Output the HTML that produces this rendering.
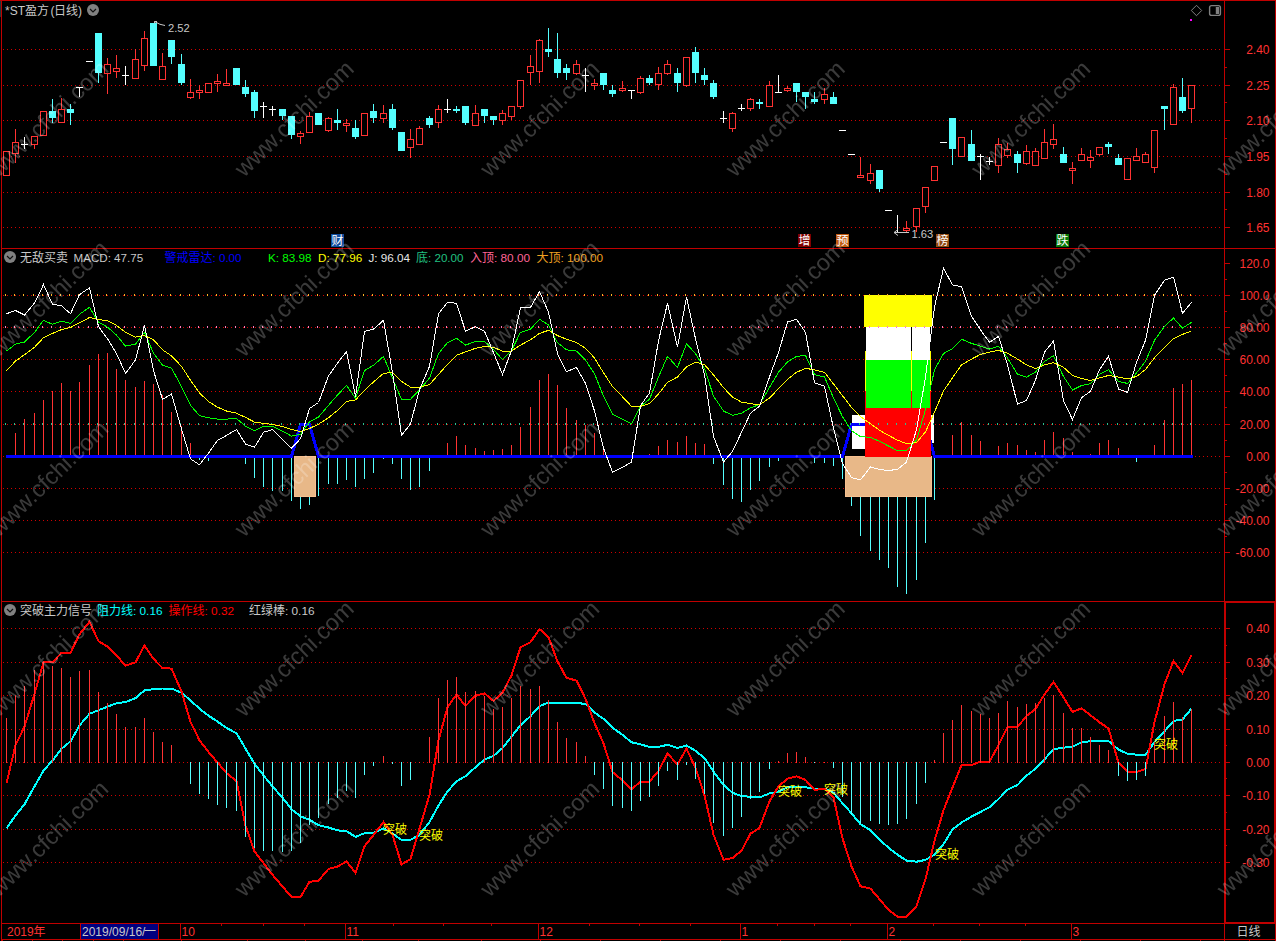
<!DOCTYPE html>
<html><head><meta charset="utf-8"><title>chart</title>
<style>html,body{margin:0;padding:0;background:#000;overflow:hidden}svg{display:block}text{font-family:"Liberation Sans","Noto Sans CJK SC",sans-serif;font-size:12px}</style>
</head><body><svg width="1276" height="941" viewBox="0 0 1276 941" shape-rendering="crispEdges"><rect x="0" y="0" width="1276" height="941" fill="#000"/>
<line x1="3" y1="49.5" x2="1221" y2="49.5" stroke="#D00000" stroke-width="1" stroke-dasharray="1 3"/>
<line x1="3" y1="85.5" x2="1221" y2="85.5" stroke="#D00000" stroke-width="1" stroke-dasharray="1 3"/>
<line x1="3" y1="120.5" x2="1221" y2="120.5" stroke="#D00000" stroke-width="1" stroke-dasharray="1 3"/>
<line x1="3" y1="156.5" x2="1221" y2="156.5" stroke="#D00000" stroke-width="1" stroke-dasharray="1 3"/>
<line x1="3" y1="192.5" x2="1221" y2="192.5" stroke="#D00000" stroke-width="1" stroke-dasharray="1 3"/>
<line x1="3" y1="227.5" x2="1221" y2="227.5" stroke="#D00000" stroke-width="1" stroke-dasharray="1 3"/>
<line x1="3" y1="295.5" x2="1221" y2="295.5" stroke="#D00000" stroke-width="1" stroke-dasharray="1 3"/>
<line x1="3" y1="327.5" x2="1221" y2="327.5" stroke="#D00000" stroke-width="1" stroke-dasharray="1 3"/>
<line x1="3" y1="359.5" x2="1221" y2="359.5" stroke="#D00000" stroke-width="1" stroke-dasharray="1 3"/>
<line x1="3" y1="391.5" x2="1221" y2="391.5" stroke="#D00000" stroke-width="1" stroke-dasharray="1 3"/>
<line x1="3" y1="424.5" x2="1221" y2="424.5" stroke="#D00000" stroke-width="1" stroke-dasharray="1 3"/>
<line x1="3" y1="456.5" x2="1221" y2="456.5" stroke="#D00000" stroke-width="1" stroke-dasharray="1 3"/>
<line x1="3" y1="488.5" x2="1221" y2="488.5" stroke="#D00000" stroke-width="1" stroke-dasharray="1 3"/>
<line x1="3" y1="520.5" x2="1221" y2="520.5" stroke="#D00000" stroke-width="1" stroke-dasharray="1 3"/>
<line x1="3" y1="552.5" x2="1221" y2="552.5" stroke="#D00000" stroke-width="1" stroke-dasharray="1 3"/>
<line x1="3" y1="628.5" x2="1221" y2="628.5" stroke="#D00000" stroke-width="1" stroke-dasharray="1 3"/>
<line x1="3" y1="662.5" x2="1221" y2="662.5" stroke="#D00000" stroke-width="1" stroke-dasharray="1 3"/>
<line x1="3" y1="695.5" x2="1221" y2="695.5" stroke="#D00000" stroke-width="1" stroke-dasharray="1 3"/>
<line x1="3" y1="729.5" x2="1221" y2="729.5" stroke="#D00000" stroke-width="1" stroke-dasharray="1 3"/>
<line x1="3" y1="762.5" x2="1221" y2="762.5" stroke="#D00000" stroke-width="1" stroke-dasharray="1 3"/>
<line x1="3" y1="795.5" x2="1221" y2="795.5" stroke="#D00000" stroke-width="1" stroke-dasharray="1 3"/>
<line x1="3" y1="829.5" x2="1221" y2="829.5" stroke="#D00000" stroke-width="1" stroke-dasharray="1 3"/>
<line x1="3" y1="862.5" x2="1221" y2="862.5" stroke="#D00000" stroke-width="1" stroke-dasharray="1 3"/>
<rect x="3.5" y="151.5" width="6" height="24" fill="#000" stroke="#FF3232" stroke-width="1"/>
<rect x="15" y="129" width="1" height="14" fill="#FF3232"/>
<rect x="15" y="153" width="1" height="10" fill="#FF3232"/>
<rect x="12.5" y="142.5" width="6" height="11" fill="#000" stroke="#FF3232" stroke-width="1"/>
<rect x="24" y="137" width="1" height="12" fill="#fff"/>
<rect x="21" y="144" width="7" height="1" fill="#fff"/>
<rect x="34" y="144" width="1" height="5" fill="#FF3232"/>
<rect x="31.5" y="136.5" width="6" height="8" fill="#000" stroke="#FF3232" stroke-width="1"/>
<rect x="40.5" y="111.5" width="6" height="24" fill="#000" stroke="#FF3232" stroke-width="1"/>
<rect x="52" y="99" width="1" height="13" fill="#54FFFF"/>
<rect x="52" y="117" width="1" height="6" fill="#54FFFF"/>
<rect x="49" y="111" width="7" height="7" fill="#54FFFF"/>
<rect x="61" y="98" width="1" height="12" fill="#FF3232"/>
<rect x="58.5" y="109.5" width="6" height="13" fill="#000" stroke="#FF3232" stroke-width="1"/>
<rect x="70" y="104" width="1" height="6" fill="#54FFFF"/>
<rect x="70" y="112" width="1" height="13" fill="#54FFFF"/>
<rect x="67" y="109" width="7" height="4" fill="#54FFFF"/>
<rect x="79" y="87" width="1" height="10" fill="#fff"/>
<rect x="76" y="87" width="7" height="1" fill="#fff"/>
<rect x="86" y="61" width="7" height="1" fill="#fff"/>
<rect x="98" y="72" width="1" height="11" fill="#54FFFF"/>
<rect x="95" y="33" width="7" height="40" fill="#54FFFF"/>
<rect x="107" y="58" width="1" height="7" fill="#FF3232"/>
<rect x="107" y="73" width="1" height="21" fill="#FF3232"/>
<rect x="104.5" y="64.5" width="6" height="9" fill="#000" stroke="#FF3232" stroke-width="1"/>
<rect x="116" y="55" width="1" height="14" fill="#FF3232"/>
<rect x="116" y="71" width="1" height="7" fill="#FF3232"/>
<rect x="113.5" y="68.5" width="6" height="3" fill="#000" stroke="#FF3232" stroke-width="1"/>
<rect x="125" y="66" width="1" height="19" fill="#fff"/>
<rect x="122" y="75" width="7" height="1" fill="#fff"/>
<rect x="135" y="49" width="1" height="11" fill="#FF3232"/>
<rect x="132.5" y="59.5" width="6" height="19" fill="#000" stroke="#FF3232" stroke-width="1"/>
<rect x="144" y="31" width="1" height="8" fill="#FF3232"/>
<rect x="144" y="65" width="1" height="6" fill="#FF3232"/>
<rect x="141.5" y="38.5" width="6" height="27" fill="#000" stroke="#FF3232" stroke-width="1"/>
<rect x="150" y="23" width="7" height="43" fill="#54FFFF"/>
<rect x="162" y="53" width="1" height="14" fill="#FF3232"/>
<rect x="159.5" y="66.5" width="6" height="13" fill="#000" stroke="#FF3232" stroke-width="1"/>
<rect x="171" y="56" width="1" height="8" fill="#54FFFF"/>
<rect x="168" y="40" width="7" height="17" fill="#54FFFF"/>
<rect x="181" y="54" width="1" height="11" fill="#54FFFF"/>
<rect x="181" y="82" width="1" height="3" fill="#54FFFF"/>
<rect x="178" y="64" width="7" height="19" fill="#54FFFF"/>
<rect x="190" y="79" width="1" height="14" fill="#FF3232"/>
<rect x="190" y="97" width="1" height="2" fill="#FF3232"/>
<rect x="187.5" y="92.5" width="6" height="5" fill="#000" stroke="#FF3232" stroke-width="1"/>
<rect x="199" y="85" width="1" height="6" fill="#FF3232"/>
<rect x="199" y="92" width="1" height="7" fill="#FF3232"/>
<rect x="196.5" y="90.5" width="6" height="2" fill="#000" stroke="#FF3232" stroke-width="1"/>
<rect x="205.5" y="83.5" width="6" height="9" fill="#000" stroke="#FF3232" stroke-width="1"/>
<rect x="217" y="74" width="1" height="8" fill="#FF3232"/>
<rect x="217" y="83" width="1" height="9" fill="#FF3232"/>
<rect x="214.5" y="81.5" width="6" height="2" fill="#000" stroke="#FF3232" stroke-width="1"/>
<rect x="226" y="69" width="1" height="15" fill="#FF3232"/>
<rect x="223.5" y="83.5" width="6" height="2" fill="#000" stroke="#FF3232" stroke-width="1"/>
<rect x="233" y="68" width="7" height="17" fill="#54FFFF"/>
<rect x="245" y="80" width="1" height="8" fill="#54FFFF"/>
<rect x="245" y="93" width="1" height="4" fill="#54FFFF"/>
<rect x="242" y="87" width="7" height="7" fill="#54FFFF"/>
<rect x="254" y="90" width="1" height="3" fill="#54FFFF"/>
<rect x="254" y="110" width="1" height="8" fill="#54FFFF"/>
<rect x="251" y="92" width="7" height="19" fill="#54FFFF"/>
<rect x="263" y="102" width="1" height="16" fill="#fff"/>
<rect x="260" y="106" width="7" height="1" fill="#fff"/>
<rect x="272" y="106" width="1" height="10" fill="#fff"/>
<rect x="269" y="109" width="7" height="1" fill="#fff"/>
<rect x="282" y="115" width="1" height="5" fill="#54FFFF"/>
<rect x="279" y="109" width="7" height="7" fill="#54FFFF"/>
<rect x="291" y="134" width="1" height="5" fill="#54FFFF"/>
<rect x="288" y="116" width="7" height="19" fill="#54FFFF"/>
<rect x="300" y="131" width="1" height="3" fill="#FF3232"/>
<rect x="300" y="136" width="1" height="8" fill="#FF3232"/>
<rect x="297.5" y="133.5" width="6" height="3" fill="#000" stroke="#FF3232" stroke-width="1"/>
<rect x="309" y="112" width="1" height="5" fill="#FF3232"/>
<rect x="306.5" y="116.5" width="6" height="16" fill="#000" stroke="#FF3232" stroke-width="1"/>
<rect x="315" y="113" width="7" height="12" fill="#54FFFF"/>
<rect x="328" y="117" width="1" height="2" fill="#FF3232"/>
<rect x="328" y="130" width="1" height="2" fill="#FF3232"/>
<rect x="325.5" y="118.5" width="6" height="12" fill="#000" stroke="#FF3232" stroke-width="1"/>
<rect x="337" y="109" width="1" height="12" fill="#54FFFF"/>
<rect x="337" y="122" width="1" height="8" fill="#54FFFF"/>
<rect x="334" y="120" width="7" height="3" fill="#54FFFF"/>
<rect x="346" y="119" width="1" height="5" fill="#FF3232"/>
<rect x="346" y="125" width="1" height="7" fill="#FF3232"/>
<rect x="343.5" y="123.5" width="6" height="2" fill="#000" stroke="#FF3232" stroke-width="1"/>
<rect x="355" y="120" width="1" height="9" fill="#54FFFF"/>
<rect x="355" y="136" width="1" height="3" fill="#54FFFF"/>
<rect x="352" y="128" width="7" height="9" fill="#54FFFF"/>
<rect x="361.5" y="113.5" width="6" height="22" fill="#000" stroke="#FF3232" stroke-width="1"/>
<rect x="373" y="104" width="1" height="8" fill="#54FFFF"/>
<rect x="373" y="117" width="1" height="6" fill="#54FFFF"/>
<rect x="370" y="111" width="7" height="7" fill="#54FFFF"/>
<rect x="383" y="105" width="1" height="9" fill="#FF3232"/>
<rect x="383" y="118" width="1" height="5" fill="#FF3232"/>
<rect x="380.5" y="113.5" width="6" height="5" fill="#000" stroke="#FF3232" stroke-width="1"/>
<rect x="392" y="104" width="1" height="6" fill="#54FFFF"/>
<rect x="392" y="127" width="1" height="3" fill="#54FFFF"/>
<rect x="389" y="109" width="7" height="19" fill="#54FFFF"/>
<rect x="398" y="132" width="7" height="19" fill="#54FFFF"/>
<rect x="410" y="129" width="1" height="11" fill="#FF3232"/>
<rect x="410" y="147" width="1" height="11" fill="#FF3232"/>
<rect x="407.5" y="139.5" width="6" height="8" fill="#000" stroke="#FF3232" stroke-width="1"/>
<rect x="419" y="126" width="1" height="3" fill="#FF3232"/>
<rect x="416.5" y="128.5" width="6" height="16" fill="#000" stroke="#FF3232" stroke-width="1"/>
<rect x="429" y="116" width="1" height="3" fill="#54FFFF"/>
<rect x="429" y="124" width="1" height="4" fill="#54FFFF"/>
<rect x="426" y="118" width="7" height="7" fill="#54FFFF"/>
<rect x="438" y="105" width="1" height="5" fill="#FF3232"/>
<rect x="438" y="122" width="1" height="6" fill="#FF3232"/>
<rect x="435.5" y="109.5" width="6" height="13" fill="#000" stroke="#FF3232" stroke-width="1"/>
<rect x="447" y="99" width="1" height="14" fill="#fff"/>
<rect x="444" y="109" width="7" height="1" fill="#fff"/>
<rect x="456" y="106" width="1" height="4" fill="#54FFFF"/>
<rect x="456" y="110" width="1" height="3" fill="#54FFFF"/>
<rect x="453" y="109" width="7" height="2" fill="#54FFFF"/>
<rect x="465" y="122" width="1" height="3" fill="#54FFFF"/>
<rect x="462" y="106" width="7" height="17" fill="#54FFFF"/>
<rect x="475" y="105" width="1" height="9" fill="#FF3232"/>
<rect x="472.5" y="113.5" width="6" height="12" fill="#000" stroke="#FF3232" stroke-width="1"/>
<rect x="484" y="115" width="1" height="8" fill="#54FFFF"/>
<rect x="481" y="109" width="7" height="7" fill="#54FFFF"/>
<rect x="493" y="119" width="1" height="6" fill="#54FFFF"/>
<rect x="490" y="116" width="7" height="4" fill="#54FFFF"/>
<rect x="502" y="110" width="1" height="4" fill="#FF3232"/>
<rect x="502" y="120" width="1" height="5" fill="#FF3232"/>
<rect x="499.5" y="113.5" width="6" height="7" fill="#000" stroke="#FF3232" stroke-width="1"/>
<rect x="511" y="116" width="1" height="4" fill="#FF3232"/>
<rect x="508.5" y="106.5" width="6" height="10" fill="#000" stroke="#FF3232" stroke-width="1"/>
<rect x="520" y="106" width="1" height="3" fill="#FF3232"/>
<rect x="517.5" y="80.5" width="6" height="26" fill="#000" stroke="#FF3232" stroke-width="1"/>
<rect x="530" y="55" width="1" height="12" fill="#FF3232"/>
<rect x="530" y="72" width="1" height="13" fill="#FF3232"/>
<rect x="527.5" y="66.5" width="6" height="6" fill="#000" stroke="#FF3232" stroke-width="1"/>
<rect x="539" y="39" width="1" height="2" fill="#FF3232"/>
<rect x="539" y="71" width="1" height="12" fill="#FF3232"/>
<rect x="536.5" y="40.5" width="6" height="31" fill="#000" stroke="#FF3232" stroke-width="1"/>
<rect x="548" y="28" width="1" height="22" fill="#54FFFF"/>
<rect x="548" y="51" width="1" height="6" fill="#54FFFF"/>
<rect x="545" y="49" width="7" height="3" fill="#54FFFF"/>
<rect x="557" y="33" width="1" height="27" fill="#54FFFF"/>
<rect x="557" y="72" width="1" height="6" fill="#54FFFF"/>
<rect x="554" y="59" width="7" height="14" fill="#54FFFF"/>
<rect x="566" y="64" width="1" height="5" fill="#54FFFF"/>
<rect x="566" y="72" width="1" height="8" fill="#54FFFF"/>
<rect x="563" y="68" width="7" height="5" fill="#54FFFF"/>
<rect x="576" y="60" width="1" height="5" fill="#FF3232"/>
<rect x="576" y="73" width="1" height="2" fill="#FF3232"/>
<rect x="573.5" y="64.5" width="6" height="9" fill="#000" stroke="#FF3232" stroke-width="1"/>
<rect x="585" y="68" width="1" height="24" fill="#fff"/>
<rect x="582" y="75" width="7" height="1" fill="#fff"/>
<rect x="594" y="79" width="1" height="5" fill="#FF3232"/>
<rect x="594" y="85" width="1" height="5" fill="#FF3232"/>
<rect x="591.5" y="83.5" width="6" height="2" fill="#000" stroke="#FF3232" stroke-width="1"/>
<rect x="603" y="84" width="1" height="6" fill="#54FFFF"/>
<rect x="600" y="73" width="7" height="12" fill="#54FFFF"/>
<rect x="612" y="85" width="1" height="6" fill="#54FFFF"/>
<rect x="612" y="93" width="1" height="4" fill="#54FFFF"/>
<rect x="609" y="90" width="7" height="4" fill="#54FFFF"/>
<rect x="622" y="81" width="1" height="8" fill="#FF3232"/>
<rect x="622" y="90" width="1" height="2" fill="#FF3232"/>
<rect x="619.5" y="88.5" width="6" height="2" fill="#000" stroke="#FF3232" stroke-width="1"/>
<rect x="631" y="90" width="1" height="9" fill="#fff"/>
<rect x="628" y="90" width="7" height="1" fill="#fff"/>
<rect x="640" y="76" width="1" height="3" fill="#FF3232"/>
<rect x="640" y="92" width="1" height="2" fill="#FF3232"/>
<rect x="637.5" y="78.5" width="6" height="14" fill="#000" stroke="#FF3232" stroke-width="1"/>
<rect x="649" y="75" width="1" height="4" fill="#54FFFF"/>
<rect x="649" y="82" width="1" height="3" fill="#54FFFF"/>
<rect x="646" y="78" width="7" height="5" fill="#54FFFF"/>
<rect x="658" y="67" width="1" height="7" fill="#FF3232"/>
<rect x="658" y="84" width="1" height="6" fill="#FF3232"/>
<rect x="655.5" y="73.5" width="6" height="11" fill="#000" stroke="#FF3232" stroke-width="1"/>
<rect x="667" y="60" width="1" height="5" fill="#FF3232"/>
<rect x="667" y="73" width="1" height="2" fill="#FF3232"/>
<rect x="664.5" y="64.5" width="6" height="9" fill="#000" stroke="#FF3232" stroke-width="1"/>
<rect x="677" y="68" width="1" height="6" fill="#54FFFF"/>
<rect x="677" y="82" width="1" height="10" fill="#54FFFF"/>
<rect x="674" y="73" width="7" height="10" fill="#54FFFF"/>
<rect x="686" y="85" width="1" height="2" fill="#FF3232"/>
<rect x="683.5" y="57.5" width="6" height="28" fill="#000" stroke="#FF3232" stroke-width="1"/>
<rect x="695" y="47" width="1" height="6" fill="#54FFFF"/>
<rect x="695" y="72" width="1" height="11" fill="#54FFFF"/>
<rect x="692" y="52" width="7" height="21" fill="#54FFFF"/>
<rect x="704" y="68" width="1" height="8" fill="#54FFFF"/>
<rect x="704" y="79" width="1" height="6" fill="#54FFFF"/>
<rect x="701" y="75" width="7" height="5" fill="#54FFFF"/>
<rect x="713" y="80" width="1" height="4" fill="#54FFFF"/>
<rect x="713" y="96" width="1" height="3" fill="#54FFFF"/>
<rect x="710" y="83" width="7" height="14" fill="#54FFFF"/>
<rect x="723" y="111" width="1" height="12" fill="#fff"/>
<rect x="720" y="118" width="7" height="1" fill="#fff"/>
<rect x="732" y="112" width="1" height="2" fill="#FF3232"/>
<rect x="732" y="128" width="1" height="4" fill="#FF3232"/>
<rect x="729.5" y="113.5" width="6" height="15" fill="#000" stroke="#FF3232" stroke-width="1"/>
<rect x="741" y="104" width="1" height="7" fill="#fff"/>
<rect x="738" y="108" width="7" height="1" fill="#fff"/>
<rect x="750" y="98" width="1" height="2" fill="#FF3232"/>
<rect x="750" y="108" width="1" height="3" fill="#FF3232"/>
<rect x="747.5" y="99.5" width="6" height="9" fill="#000" stroke="#FF3232" stroke-width="1"/>
<rect x="759" y="99" width="1" height="4" fill="#54FFFF"/>
<rect x="759" y="103" width="1" height="6" fill="#54FFFF"/>
<rect x="756" y="102" width="7" height="2" fill="#54FFFF"/>
<rect x="769" y="81" width="1" height="5" fill="#FF3232"/>
<rect x="766.5" y="85.5" width="6" height="21" fill="#000" stroke="#FF3232" stroke-width="1"/>
<rect x="778" y="75" width="1" height="18" fill="#fff"/>
<rect x="775" y="92" width="7" height="1" fill="#fff"/>
<rect x="787" y="86" width="1" height="3" fill="#FF3232"/>
<rect x="787" y="90" width="1" height="2" fill="#FF3232"/>
<rect x="784.5" y="88.5" width="6" height="2" fill="#000" stroke="#FF3232" stroke-width="1"/>
<rect x="796" y="91" width="1" height="11" fill="#54FFFF"/>
<rect x="793" y="83" width="7" height="9" fill="#54FFFF"/>
<rect x="805" y="96" width="1" height="13" fill="#54FFFF"/>
<rect x="802" y="92" width="7" height="5" fill="#54FFFF"/>
<rect x="814" y="92" width="1" height="8" fill="#54FFFF"/>
<rect x="814" y="101" width="1" height="3" fill="#54FFFF"/>
<rect x="811" y="99" width="7" height="3" fill="#54FFFF"/>
<rect x="824" y="88" width="1" height="7" fill="#FF3232"/>
<rect x="824" y="99" width="1" height="5" fill="#FF3232"/>
<rect x="821.5" y="94.5" width="6" height="5" fill="#000" stroke="#FF3232" stroke-width="1"/>
<rect x="833" y="92" width="1" height="6" fill="#54FFFF"/>
<rect x="830" y="97" width="7" height="7" fill="#54FFFF"/>
<rect x="839" y="130" width="7" height="1" fill="#fff"/>
<rect x="848" y="154" width="7" height="1" fill="#fff"/>
<rect x="860" y="157" width="1" height="19" fill="#FF3232"/>
<rect x="857.5" y="175.5" width="6" height="2" fill="#000" stroke="#FF3232" stroke-width="1"/>
<rect x="870" y="164" width="1" height="10" fill="#FF3232"/>
<rect x="870" y="180" width="1" height="4" fill="#FF3232"/>
<rect x="867.5" y="173.5" width="6" height="7" fill="#000" stroke="#FF3232" stroke-width="1"/>
<rect x="879" y="188" width="1" height="4" fill="#54FFFF"/>
<rect x="876" y="170" width="7" height="19" fill="#54FFFF"/>
<rect x="885" y="210" width="7" height="1" fill="#fff"/>
<rect x="897" y="215" width="1" height="18" fill="#fff"/>
<rect x="894" y="232" width="7" height="1" fill="#fff"/>
<rect x="906" y="221" width="1" height="8" fill="#FF3232"/>
<rect x="906" y="230" width="1" height="2" fill="#FF3232"/>
<rect x="903.5" y="228.5" width="6" height="2" fill="#000" stroke="#FF3232" stroke-width="1"/>
<rect x="916" y="226" width="1" height="6" fill="#FF3232"/>
<rect x="913.5" y="208.5" width="6" height="18" fill="#000" stroke="#FF3232" stroke-width="1"/>
<rect x="925" y="206" width="1" height="7" fill="#FF3232"/>
<rect x="922.5" y="187.5" width="6" height="19" fill="#000" stroke="#FF3232" stroke-width="1"/>
<rect x="931.5" y="166.5" width="6" height="14" fill="#000" stroke="#FF3232" stroke-width="1"/>
<rect x="940" y="142" width="7" height="1" fill="#fff"/>
<rect x="952" y="148" width="1" height="17" fill="#54FFFF"/>
<rect x="949" y="118" width="7" height="31" fill="#54FFFF"/>
<rect x="958.5" y="137.5" width="6" height="19" fill="#000" stroke="#FF3232" stroke-width="1"/>
<rect x="971" y="130" width="1" height="15" fill="#54FFFF"/>
<rect x="968" y="144" width="7" height="17" fill="#54FFFF"/>
<rect x="980" y="154" width="1" height="26" fill="#fff"/>
<rect x="977" y="156" width="7" height="1" fill="#fff"/>
<rect x="989" y="157" width="1" height="8" fill="#fff"/>
<rect x="986" y="161" width="7" height="1" fill="#fff"/>
<rect x="998" y="138" width="1" height="7" fill="#FF3232"/>
<rect x="998" y="165" width="1" height="8" fill="#FF3232"/>
<rect x="995.5" y="144.5" width="6" height="21" fill="#000" stroke="#FF3232" stroke-width="1"/>
<rect x="1007" y="143" width="1" height="7" fill="#FF3232"/>
<rect x="1007" y="155" width="1" height="3" fill="#FF3232"/>
<rect x="1004.5" y="149.5" width="6" height="6" fill="#000" stroke="#FF3232" stroke-width="1"/>
<rect x="1017" y="151" width="1" height="4" fill="#54FFFF"/>
<rect x="1017" y="162" width="1" height="11" fill="#54FFFF"/>
<rect x="1014" y="154" width="7" height="9" fill="#54FFFF"/>
<rect x="1026" y="145" width="1" height="7" fill="#FF3232"/>
<rect x="1026" y="163" width="1" height="2" fill="#FF3232"/>
<rect x="1023.5" y="151.5" width="6" height="12" fill="#000" stroke="#FF3232" stroke-width="1"/>
<rect x="1035" y="148" width="1" height="4" fill="#FF3232"/>
<rect x="1032.5" y="151.5" width="6" height="14" fill="#000" stroke="#FF3232" stroke-width="1"/>
<rect x="1044" y="129" width="1" height="14" fill="#FF3232"/>
<rect x="1041.5" y="142.5" width="6" height="16" fill="#000" stroke="#FF3232" stroke-width="1"/>
<rect x="1053" y="124" width="1" height="16" fill="#FF3232"/>
<rect x="1053" y="144" width="1" height="5" fill="#FF3232"/>
<rect x="1050.5" y="139.5" width="6" height="5" fill="#000" stroke="#FF3232" stroke-width="1"/>
<rect x="1063" y="147" width="1" height="8" fill="#54FFFF"/>
<rect x="1060" y="154" width="7" height="9" fill="#54FFFF"/>
<rect x="1072" y="162" width="1" height="7" fill="#FF3232"/>
<rect x="1072" y="170" width="1" height="14" fill="#FF3232"/>
<rect x="1069.5" y="168.5" width="6" height="2" fill="#000" stroke="#FF3232" stroke-width="1"/>
<rect x="1081" y="148" width="1" height="7" fill="#FF3232"/>
<rect x="1078.5" y="154.5" width="6" height="6" fill="#000" stroke="#FF3232" stroke-width="1"/>
<rect x="1090" y="150" width="1" height="8" fill="#FF3232"/>
<rect x="1090" y="160" width="1" height="8" fill="#FF3232"/>
<rect x="1087.5" y="157.5" width="6" height="3" fill="#000" stroke="#FF3232" stroke-width="1"/>
<rect x="1099" y="154" width="1" height="2" fill="#FF3232"/>
<rect x="1096.5" y="147.5" width="6" height="7" fill="#000" stroke="#FF3232" stroke-width="1"/>
<rect x="1108" y="142" width="1" height="3" fill="#54FFFF"/>
<rect x="1108" y="146" width="1" height="8" fill="#54FFFF"/>
<rect x="1105" y="144" width="7" height="3" fill="#54FFFF"/>
<rect x="1118" y="154" width="1" height="5" fill="#54FFFF"/>
<rect x="1115" y="158" width="7" height="7" fill="#54FFFF"/>
<rect x="1124.5" y="158.5" width="6" height="21" fill="#000" stroke="#FF3232" stroke-width="1"/>
<rect x="1136" y="148" width="1" height="9" fill="#FF3232"/>
<rect x="1133.5" y="156.5" width="6" height="4" fill="#000" stroke="#FF3232" stroke-width="1"/>
<rect x="1145" y="152" width="1" height="3" fill="#FF3232"/>
<rect x="1142.5" y="154.5" width="6" height="8" fill="#000" stroke="#FF3232" stroke-width="1"/>
<rect x="1154" y="167" width="1" height="6" fill="#FF3232"/>
<rect x="1151.5" y="130.5" width="6" height="37" fill="#000" stroke="#FF3232" stroke-width="1"/>
<rect x="1164" y="108" width="1" height="22" fill="#54FFFF"/>
<rect x="1161" y="106" width="7" height="3" fill="#54FFFF"/>
<rect x="1173" y="84" width="1" height="4" fill="#FF3232"/>
<rect x="1170.5" y="87.5" width="6" height="37" fill="#000" stroke="#FF3232" stroke-width="1"/>
<rect x="1182" y="78" width="1" height="20" fill="#54FFFF"/>
<rect x="1182" y="110" width="1" height="3" fill="#54FFFF"/>
<rect x="1179" y="97" width="7" height="14" fill="#54FFFF"/>
<rect x="1191" y="108" width="1" height="15" fill="#FF3232"/>
<rect x="1188.5" y="85.5" width="6" height="23" fill="#000" stroke="#FF3232" stroke-width="1"/>
<rect x="852" y="415" width="13" height="34" fill="#fff"/>
<rect x="931" y="415" width="3" height="28" fill="#fff"/>
<rect x="15" y="433" width="1" height="24" fill="#FF3232"/>
<rect x="24" y="419" width="1" height="38" fill="#FF3232"/>
<rect x="34" y="413" width="1" height="44" fill="#FF3232"/>
<rect x="43" y="400" width="1" height="57" fill="#FF3232"/>
<rect x="52" y="391" width="1" height="66" fill="#FF3232"/>
<rect x="61" y="383" width="1" height="74" fill="#FF3232"/>
<rect x="70" y="391" width="1" height="66" fill="#FF3232"/>
<rect x="79" y="382" width="1" height="75" fill="#FF3232"/>
<rect x="89" y="365" width="1" height="92" fill="#FF3232"/>
<rect x="98" y="354" width="1" height="103" fill="#FF3232"/>
<rect x="107" y="353" width="1" height="104" fill="#FF3232"/>
<rect x="116" y="369" width="1" height="88" fill="#FF3232"/>
<rect x="125" y="380" width="1" height="77" fill="#FF3232"/>
<rect x="135" y="387" width="1" height="70" fill="#FF3232"/>
<rect x="144" y="381" width="1" height="76" fill="#FF3232"/>
<rect x="153" y="384" width="1" height="73" fill="#FF3232"/>
<rect x="162" y="395" width="1" height="62" fill="#FF3232"/>
<rect x="171" y="412" width="1" height="45" fill="#FF3232"/>
<rect x="181" y="426" width="1" height="31" fill="#FF3232"/>
<rect x="190" y="443" width="1" height="14" fill="#FF3232"/>
<rect x="438" y="455" width="1" height="2" fill="#FF3232"/>
<rect x="447" y="443" width="1" height="14" fill="#FF3232"/>
<rect x="456" y="436" width="1" height="21" fill="#FF3232"/>
<rect x="465" y="445" width="1" height="12" fill="#FF3232"/>
<rect x="475" y="448" width="1" height="9" fill="#FF3232"/>
<rect x="484" y="451" width="1" height="6" fill="#FF3232"/>
<rect x="493" y="450" width="1" height="7" fill="#FF3232"/>
<rect x="502" y="449" width="1" height="8" fill="#FF3232"/>
<rect x="511" y="445" width="1" height="12" fill="#FF3232"/>
<rect x="520" y="427" width="1" height="30" fill="#FF3232"/>
<rect x="530" y="407" width="1" height="50" fill="#FF3232"/>
<rect x="539" y="380" width="1" height="77" fill="#FF3232"/>
<rect x="548" y="374" width="1" height="83" fill="#FF3232"/>
<rect x="557" y="385" width="1" height="72" fill="#FF3232"/>
<rect x="566" y="408" width="1" height="49" fill="#FF3232"/>
<rect x="576" y="420" width="1" height="37" fill="#FF3232"/>
<rect x="585" y="425" width="1" height="32" fill="#FF3232"/>
<rect x="594" y="433" width="1" height="24" fill="#FF3232"/>
<rect x="603" y="449" width="1" height="8" fill="#FF3232"/>
<rect x="649" y="454" width="1" height="3" fill="#FF3232"/>
<rect x="658" y="446" width="1" height="11" fill="#FF3232"/>
<rect x="667" y="440" width="1" height="17" fill="#FF3232"/>
<rect x="677" y="442" width="1" height="15" fill="#FF3232"/>
<rect x="686" y="436" width="1" height="21" fill="#FF3232"/>
<rect x="695" y="443" width="1" height="14" fill="#FF3232"/>
<rect x="704" y="444" width="1" height="13" fill="#FF3232"/>
<rect x="952" y="435" width="1" height="22" fill="#FF3232"/>
<rect x="961" y="422" width="1" height="35" fill="#FF3232"/>
<rect x="971" y="435" width="1" height="22" fill="#FF3232"/>
<rect x="980" y="441" width="1" height="16" fill="#FF3232"/>
<rect x="998" y="446" width="1" height="11" fill="#FF3232"/>
<rect x="1007" y="443" width="1" height="14" fill="#FF3232"/>
<rect x="1017" y="445" width="1" height="12" fill="#FF3232"/>
<rect x="1026" y="450" width="1" height="7" fill="#FF3232"/>
<rect x="1035" y="452" width="1" height="5" fill="#FF3232"/>
<rect x="1044" y="440" width="1" height="17" fill="#FF3232"/>
<rect x="1053" y="432" width="1" height="25" fill="#FF3232"/>
<rect x="1063" y="438" width="1" height="19" fill="#FF3232"/>
<rect x="1072" y="452" width="1" height="5" fill="#FF3232"/>
<rect x="1090" y="454" width="1" height="3" fill="#FF3232"/>
<rect x="1099" y="443" width="1" height="14" fill="#FF3232"/>
<rect x="1108" y="440" width="1" height="17" fill="#FF3232"/>
<rect x="1118" y="448" width="1" height="9" fill="#FF3232"/>
<rect x="1154" y="445" width="1" height="12" fill="#FF3232"/>
<rect x="1164" y="420" width="1" height="37" fill="#FF3232"/>
<rect x="1173" y="388" width="1" height="69" fill="#FF3232"/>
<rect x="1182" y="384" width="1" height="73" fill="#FF3232"/>
<rect x="1191" y="380" width="1" height="77" fill="#FF3232"/>
<rect x="199" y="456" width="1" height="4" fill="#54FFFF"/>
<rect x="208" y="456" width="1" height="5" fill="#54FFFF"/>
<rect x="245" y="456" width="1" height="8" fill="#54FFFF"/>
<rect x="254" y="456" width="1" height="22" fill="#54FFFF"/>
<rect x="263" y="456" width="1" height="31" fill="#54FFFF"/>
<rect x="272" y="456" width="1" height="35" fill="#54FFFF"/>
<rect x="282" y="456" width="1" height="35" fill="#54FFFF"/>
<rect x="291" y="456" width="1" height="45" fill="#54FFFF"/>
<rect x="300" y="456" width="1" height="53" fill="#54FFFF"/>
<rect x="309" y="456" width="1" height="49" fill="#54FFFF"/>
<rect x="318" y="456" width="1" height="40" fill="#54FFFF"/>
<rect x="328" y="456" width="1" height="28" fill="#54FFFF"/>
<rect x="337" y="456" width="1" height="28" fill="#54FFFF"/>
<rect x="346" y="456" width="1" height="24" fill="#54FFFF"/>
<rect x="355" y="456" width="1" height="31" fill="#54FFFF"/>
<rect x="364" y="456" width="1" height="23" fill="#54FFFF"/>
<rect x="373" y="456" width="1" height="17" fill="#54FFFF"/>
<rect x="383" y="456" width="1" height="3" fill="#54FFFF"/>
<rect x="392" y="456" width="1" height="8" fill="#54FFFF"/>
<rect x="401" y="456" width="1" height="23" fill="#54FFFF"/>
<rect x="410" y="456" width="1" height="34" fill="#54FFFF"/>
<rect x="419" y="456" width="1" height="31" fill="#54FFFF"/>
<rect x="429" y="456" width="1" height="15" fill="#54FFFF"/>
<rect x="713" y="456" width="1" height="8" fill="#54FFFF"/>
<rect x="723" y="456" width="1" height="29" fill="#54FFFF"/>
<rect x="732" y="456" width="1" height="43" fill="#54FFFF"/>
<rect x="741" y="456" width="1" height="46" fill="#54FFFF"/>
<rect x="750" y="456" width="1" height="34" fill="#54FFFF"/>
<rect x="759" y="456" width="1" height="25" fill="#54FFFF"/>
<rect x="769" y="456" width="1" height="11" fill="#54FFFF"/>
<rect x="778" y="456" width="1" height="5" fill="#54FFFF"/>
<rect x="814" y="456" width="1" height="7" fill="#54FFFF"/>
<rect x="824" y="456" width="1" height="7" fill="#54FFFF"/>
<rect x="833" y="456" width="1" height="10" fill="#54FFFF"/>
<rect x="842" y="456" width="1" height="23" fill="#54FFFF"/>
<rect x="851" y="456" width="1" height="50" fill="#54FFFF"/>
<rect x="860" y="456" width="1" height="80" fill="#54FFFF"/>
<rect x="870" y="456" width="1" height="95" fill="#54FFFF"/>
<rect x="879" y="456" width="1" height="104" fill="#54FFFF"/>
<rect x="888" y="456" width="1" height="112" fill="#54FFFF"/>
<rect x="897" y="456" width="1" height="131" fill="#54FFFF"/>
<rect x="906" y="456" width="1" height="138" fill="#54FFFF"/>
<rect x="916" y="456" width="1" height="124" fill="#54FFFF"/>
<rect x="925" y="456" width="1" height="87" fill="#54FFFF"/>
<rect x="934" y="456" width="1" height="44" fill="#54FFFF"/>
<rect x="1136" y="456" width="1" height="6" fill="#54FFFF"/>
<polyline points="6,456.5 6.5,456.5 15.5,456.5 24.5,456.5 34.5,456.5 43.5,456.5 52.5,456.5 61.5,456.5 70.5,456.5 79.5,456.5 89.5,456.5 98.5,456.5 107.5,456.5 116.5,456.5 125.5,456.5 135.5,456.5 144.5,456.5 153.5,456.5 162.5,456.5 171.5,456.5 181.5,456.5 190.5,456.5 199.5,456.5 208.5,456.5 217.5,456.5 226.5,456.5 236.5,456.5 245.5,456.5 254.5,456.5 263.5,456.5 272.5,456.5 282.5,456.5 291.5,456.5 300.5,424.35 309.5,424.35 318.5,456.5 328.5,456.5 337.5,456.5 346.5,456.5 355.5,456.5 364.5,456.5 373.5,456.5 383.5,456.5 392.5,456.5 401.5,456.5 410.5,456.5 419.5,456.5 429.5,456.5 438.5,456.5 447.5,456.5 456.5,456.5 465.5,456.5 475.5,456.5 484.5,456.5 493.5,456.5 502.5,456.5 511.5,456.5 520.5,456.5 530.5,456.5 539.5,456.5 548.5,456.5 557.5,456.5 566.5,456.5 576.5,456.5 585.5,456.5 594.5,456.5 603.5,456.5 612.5,456.5 622.5,456.5 631.5,456.5 640.5,456.5 649.5,456.5 658.5,456.5 667.5,456.5 677.5,456.5 686.5,456.5 695.5,456.5 704.5,456.5 713.5,456.5 723.5,456.5 732.5,456.5 741.5,456.5 750.5,456.5 759.5,456.5 769.5,456.5 778.5,456.5 787.5,456.5 796.5,456.5 805.5,456.5 814.5,456.5 824.5,456.5 833.5,456.5 842.5,456.5 851.5,424.35 860.5,424.35 870.5,424.35 879.5,424.35 888.5,424.35 897.5,424.35 906.5,424.35 916.5,424.35 925.5,424.35 934.5,456.5 943.5,456.5 952.5,456.5 961.5,456.5 971.5,456.5 980.5,456.5 989.5,456.5 998.5,456.5 1007.5,456.5 1017.5,456.5 1026.5,456.5 1035.5,456.5 1044.5,456.5 1053.5,456.5 1063.5,456.5 1072.5,456.5 1081.5,456.5 1090.5,456.5 1099.5,456.5 1108.5,456.5 1118.5,456.5 1127.5,456.5 1136.5,456.5 1145.5,456.5 1154.5,456.5 1164.5,456.5 1173.5,456.5 1182.5,456.5 1191.5,456.5 1192.5,456.5" fill="none" stroke="#0000FF" stroke-width="3" stroke-linejoin="miter"/>
<rect x="294" y="456" width="22" height="41" fill="#F8C090"/>
<rect x="295" y="457" width="20" height="39" fill="#E8B888"/>
<rect x="845" y="456" width="87" height="41" fill="#F8C090"/>
<rect x="846" y="457" width="85" height="39" fill="#E8B888"/>
<rect x="865" y="351" width="66" height="40" fill="#FFFF00"/>
<rect x="865" y="391" width="66" height="66" fill="#FF0000"/>
<rect x="864" y="295" width="68" height="32" fill="#FFFF00"/>
<rect x="866" y="327" width="45" height="33" fill="#FFFFFF"/>
<rect x="866" y="360" width="45" height="48" fill="#00FF00"/>
<rect x="912" y="327" width="18" height="33" fill="#FFFFFF"/>
<rect x="912" y="360" width="18" height="48" fill="#00FF00"/>
<rect x="911" y="327" width="1" height="24" fill="#000"/>
<rect x="865" y="408" width="66" height="49" fill="#FF0000"/>
<rect x="5" y="294" width="1" height="2" fill="#FFB428"/>
<rect x="5" y="326" width="1" height="2" fill="#FF80C0"/>
<rect x="5" y="423" width="1" height="2" fill="#30C090"/>
<rect x="14" y="294" width="1" height="2" fill="#FFB428"/>
<rect x="14" y="326" width="1" height="2" fill="#FF80C0"/>
<rect x="14" y="423" width="1" height="2" fill="#30C090"/>
<rect x="23" y="294" width="1" height="2" fill="#FFB428"/>
<rect x="23" y="326" width="1" height="2" fill="#FF80C0"/>
<rect x="23" y="423" width="1" height="2" fill="#30C090"/>
<rect x="33" y="294" width="1" height="2" fill="#FFB428"/>
<rect x="33" y="326" width="1" height="2" fill="#FF80C0"/>
<rect x="33" y="423" width="1" height="2" fill="#30C090"/>
<rect x="42" y="294" width="1" height="2" fill="#FFB428"/>
<rect x="42" y="326" width="1" height="2" fill="#FF80C0"/>
<rect x="42" y="423" width="1" height="2" fill="#30C090"/>
<rect x="51" y="294" width="1" height="2" fill="#FFB428"/>
<rect x="51" y="326" width="1" height="2" fill="#FF80C0"/>
<rect x="51" y="423" width="1" height="2" fill="#30C090"/>
<rect x="60" y="294" width="1" height="2" fill="#FFB428"/>
<rect x="60" y="326" width="1" height="2" fill="#FF80C0"/>
<rect x="60" y="423" width="1" height="2" fill="#30C090"/>
<rect x="69" y="294" width="1" height="2" fill="#FFB428"/>
<rect x="69" y="326" width="1" height="2" fill="#FF80C0"/>
<rect x="69" y="423" width="1" height="2" fill="#30C090"/>
<rect x="78" y="294" width="1" height="2" fill="#FFB428"/>
<rect x="78" y="326" width="1" height="2" fill="#FF80C0"/>
<rect x="78" y="423" width="1" height="2" fill="#30C090"/>
<rect x="88" y="294" width="1" height="2" fill="#FFB428"/>
<rect x="88" y="326" width="1" height="2" fill="#FF80C0"/>
<rect x="88" y="423" width="1" height="2" fill="#30C090"/>
<rect x="97" y="294" width="1" height="2" fill="#FFB428"/>
<rect x="97" y="326" width="1" height="2" fill="#FF80C0"/>
<rect x="97" y="423" width="1" height="2" fill="#30C090"/>
<rect x="106" y="294" width="1" height="2" fill="#FFB428"/>
<rect x="106" y="326" width="1" height="2" fill="#FF80C0"/>
<rect x="106" y="423" width="1" height="2" fill="#30C090"/>
<rect x="115" y="294" width="1" height="2" fill="#FFB428"/>
<rect x="115" y="326" width="1" height="2" fill="#FF80C0"/>
<rect x="115" y="423" width="1" height="2" fill="#30C090"/>
<rect x="124" y="294" width="1" height="2" fill="#FFB428"/>
<rect x="124" y="326" width="1" height="2" fill="#FF80C0"/>
<rect x="124" y="423" width="1" height="2" fill="#30C090"/>
<rect x="134" y="294" width="1" height="2" fill="#FFB428"/>
<rect x="134" y="326" width="1" height="2" fill="#FF80C0"/>
<rect x="134" y="423" width="1" height="2" fill="#30C090"/>
<rect x="143" y="294" width="1" height="2" fill="#FFB428"/>
<rect x="143" y="326" width="1" height="2" fill="#FF80C0"/>
<rect x="143" y="423" width="1" height="2" fill="#30C090"/>
<rect x="152" y="294" width="1" height="2" fill="#FFB428"/>
<rect x="152" y="326" width="1" height="2" fill="#FF80C0"/>
<rect x="152" y="423" width="1" height="2" fill="#30C090"/>
<rect x="161" y="294" width="1" height="2" fill="#FFB428"/>
<rect x="161" y="326" width="1" height="2" fill="#FF80C0"/>
<rect x="161" y="423" width="1" height="2" fill="#30C090"/>
<rect x="170" y="294" width="1" height="2" fill="#FFB428"/>
<rect x="170" y="326" width="1" height="2" fill="#FF80C0"/>
<rect x="170" y="423" width="1" height="2" fill="#30C090"/>
<rect x="180" y="294" width="1" height="2" fill="#FFB428"/>
<rect x="180" y="326" width="1" height="2" fill="#FF80C0"/>
<rect x="180" y="423" width="1" height="2" fill="#30C090"/>
<rect x="189" y="294" width="1" height="2" fill="#FFB428"/>
<rect x="189" y="326" width="1" height="2" fill="#FF80C0"/>
<rect x="189" y="423" width="1" height="2" fill="#30C090"/>
<rect x="198" y="294" width="1" height="2" fill="#FFB428"/>
<rect x="198" y="326" width="1" height="2" fill="#FF80C0"/>
<rect x="198" y="423" width="1" height="2" fill="#30C090"/>
<rect x="207" y="294" width="1" height="2" fill="#FFB428"/>
<rect x="207" y="326" width="1" height="2" fill="#FF80C0"/>
<rect x="207" y="423" width="1" height="2" fill="#30C090"/>
<rect x="216" y="294" width="1" height="2" fill="#FFB428"/>
<rect x="216" y="326" width="1" height="2" fill="#FF80C0"/>
<rect x="216" y="423" width="1" height="2" fill="#30C090"/>
<rect x="225" y="294" width="1" height="2" fill="#FFB428"/>
<rect x="225" y="326" width="1" height="2" fill="#FF80C0"/>
<rect x="225" y="423" width="1" height="2" fill="#30C090"/>
<rect x="235" y="294" width="1" height="2" fill="#FFB428"/>
<rect x="235" y="326" width="1" height="2" fill="#FF80C0"/>
<rect x="235" y="423" width="1" height="2" fill="#30C090"/>
<rect x="244" y="294" width="1" height="2" fill="#FFB428"/>
<rect x="244" y="326" width="1" height="2" fill="#FF80C0"/>
<rect x="244" y="423" width="1" height="2" fill="#30C090"/>
<rect x="253" y="294" width="1" height="2" fill="#FFB428"/>
<rect x="253" y="326" width="1" height="2" fill="#FF80C0"/>
<rect x="253" y="423" width="1" height="2" fill="#30C090"/>
<rect x="262" y="294" width="1" height="2" fill="#FFB428"/>
<rect x="262" y="326" width="1" height="2" fill="#FF80C0"/>
<rect x="262" y="423" width="1" height="2" fill="#30C090"/>
<rect x="271" y="294" width="1" height="2" fill="#FFB428"/>
<rect x="271" y="326" width="1" height="2" fill="#FF80C0"/>
<rect x="271" y="423" width="1" height="2" fill="#30C090"/>
<rect x="281" y="294" width="1" height="2" fill="#FFB428"/>
<rect x="281" y="326" width="1" height="2" fill="#FF80C0"/>
<rect x="281" y="423" width="1" height="2" fill="#30C090"/>
<rect x="290" y="294" width="1" height="2" fill="#FFB428"/>
<rect x="290" y="326" width="1" height="2" fill="#FF80C0"/>
<rect x="290" y="423" width="1" height="2" fill="#30C090"/>
<rect x="299" y="294" width="1" height="2" fill="#FFB428"/>
<rect x="299" y="326" width="1" height="2" fill="#FF80C0"/>
<rect x="299" y="423" width="1" height="2" fill="#30C090"/>
<rect x="308" y="294" width="1" height="2" fill="#FFB428"/>
<rect x="308" y="326" width="1" height="2" fill="#FF80C0"/>
<rect x="308" y="423" width="1" height="2" fill="#30C090"/>
<rect x="317" y="294" width="1" height="2" fill="#FFB428"/>
<rect x="317" y="326" width="1" height="2" fill="#FF80C0"/>
<rect x="317" y="423" width="1" height="2" fill="#30C090"/>
<rect x="327" y="294" width="1" height="2" fill="#FFB428"/>
<rect x="327" y="326" width="1" height="2" fill="#FF80C0"/>
<rect x="327" y="423" width="1" height="2" fill="#30C090"/>
<rect x="336" y="294" width="1" height="2" fill="#FFB428"/>
<rect x="336" y="326" width="1" height="2" fill="#FF80C0"/>
<rect x="336" y="423" width="1" height="2" fill="#30C090"/>
<rect x="345" y="294" width="1" height="2" fill="#FFB428"/>
<rect x="345" y="326" width="1" height="2" fill="#FF80C0"/>
<rect x="345" y="423" width="1" height="2" fill="#30C090"/>
<rect x="354" y="294" width="1" height="2" fill="#FFB428"/>
<rect x="354" y="326" width="1" height="2" fill="#FF80C0"/>
<rect x="354" y="423" width="1" height="2" fill="#30C090"/>
<rect x="363" y="294" width="1" height="2" fill="#FFB428"/>
<rect x="363" y="326" width="1" height="2" fill="#FF80C0"/>
<rect x="363" y="423" width="1" height="2" fill="#30C090"/>
<rect x="372" y="294" width="1" height="2" fill="#FFB428"/>
<rect x="372" y="326" width="1" height="2" fill="#FF80C0"/>
<rect x="372" y="423" width="1" height="2" fill="#30C090"/>
<rect x="382" y="294" width="1" height="2" fill="#FFB428"/>
<rect x="382" y="326" width="1" height="2" fill="#FF80C0"/>
<rect x="382" y="423" width="1" height="2" fill="#30C090"/>
<rect x="391" y="294" width="1" height="2" fill="#FFB428"/>
<rect x="391" y="326" width="1" height="2" fill="#FF80C0"/>
<rect x="391" y="423" width="1" height="2" fill="#30C090"/>
<rect x="400" y="294" width="1" height="2" fill="#FFB428"/>
<rect x="400" y="326" width="1" height="2" fill="#FF80C0"/>
<rect x="400" y="423" width="1" height="2" fill="#30C090"/>
<rect x="409" y="294" width="1" height="2" fill="#FFB428"/>
<rect x="409" y="326" width="1" height="2" fill="#FF80C0"/>
<rect x="409" y="423" width="1" height="2" fill="#30C090"/>
<rect x="418" y="294" width="1" height="2" fill="#FFB428"/>
<rect x="418" y="326" width="1" height="2" fill="#FF80C0"/>
<rect x="418" y="423" width="1" height="2" fill="#30C090"/>
<rect x="428" y="294" width="1" height="2" fill="#FFB428"/>
<rect x="428" y="326" width="1" height="2" fill="#FF80C0"/>
<rect x="428" y="423" width="1" height="2" fill="#30C090"/>
<rect x="437" y="294" width="1" height="2" fill="#FFB428"/>
<rect x="437" y="326" width="1" height="2" fill="#FF80C0"/>
<rect x="437" y="423" width="1" height="2" fill="#30C090"/>
<rect x="446" y="294" width="1" height="2" fill="#FFB428"/>
<rect x="446" y="326" width="1" height="2" fill="#FF80C0"/>
<rect x="446" y="423" width="1" height="2" fill="#30C090"/>
<rect x="455" y="294" width="1" height="2" fill="#FFB428"/>
<rect x="455" y="326" width="1" height="2" fill="#FF80C0"/>
<rect x="455" y="423" width="1" height="2" fill="#30C090"/>
<rect x="464" y="294" width="1" height="2" fill="#FFB428"/>
<rect x="464" y="326" width="1" height="2" fill="#FF80C0"/>
<rect x="464" y="423" width="1" height="2" fill="#30C090"/>
<rect x="474" y="294" width="1" height="2" fill="#FFB428"/>
<rect x="474" y="326" width="1" height="2" fill="#FF80C0"/>
<rect x="474" y="423" width="1" height="2" fill="#30C090"/>
<rect x="483" y="294" width="1" height="2" fill="#FFB428"/>
<rect x="483" y="326" width="1" height="2" fill="#FF80C0"/>
<rect x="483" y="423" width="1" height="2" fill="#30C090"/>
<rect x="492" y="294" width="1" height="2" fill="#FFB428"/>
<rect x="492" y="326" width="1" height="2" fill="#FF80C0"/>
<rect x="492" y="423" width="1" height="2" fill="#30C090"/>
<rect x="501" y="294" width="1" height="2" fill="#FFB428"/>
<rect x="501" y="326" width="1" height="2" fill="#FF80C0"/>
<rect x="501" y="423" width="1" height="2" fill="#30C090"/>
<rect x="510" y="294" width="1" height="2" fill="#FFB428"/>
<rect x="510" y="326" width="1" height="2" fill="#FF80C0"/>
<rect x="510" y="423" width="1" height="2" fill="#30C090"/>
<rect x="519" y="294" width="1" height="2" fill="#FFB428"/>
<rect x="519" y="326" width="1" height="2" fill="#FF80C0"/>
<rect x="519" y="423" width="1" height="2" fill="#30C090"/>
<rect x="529" y="294" width="1" height="2" fill="#FFB428"/>
<rect x="529" y="326" width="1" height="2" fill="#FF80C0"/>
<rect x="529" y="423" width="1" height="2" fill="#30C090"/>
<rect x="538" y="294" width="1" height="2" fill="#FFB428"/>
<rect x="538" y="326" width="1" height="2" fill="#FF80C0"/>
<rect x="538" y="423" width="1" height="2" fill="#30C090"/>
<rect x="547" y="294" width="1" height="2" fill="#FFB428"/>
<rect x="547" y="326" width="1" height="2" fill="#FF80C0"/>
<rect x="547" y="423" width="1" height="2" fill="#30C090"/>
<rect x="556" y="294" width="1" height="2" fill="#FFB428"/>
<rect x="556" y="326" width="1" height="2" fill="#FF80C0"/>
<rect x="556" y="423" width="1" height="2" fill="#30C090"/>
<rect x="565" y="294" width="1" height="2" fill="#FFB428"/>
<rect x="565" y="326" width="1" height="2" fill="#FF80C0"/>
<rect x="565" y="423" width="1" height="2" fill="#30C090"/>
<rect x="575" y="294" width="1" height="2" fill="#FFB428"/>
<rect x="575" y="326" width="1" height="2" fill="#FF80C0"/>
<rect x="575" y="423" width="1" height="2" fill="#30C090"/>
<rect x="584" y="294" width="1" height="2" fill="#FFB428"/>
<rect x="584" y="326" width="1" height="2" fill="#FF80C0"/>
<rect x="584" y="423" width="1" height="2" fill="#30C090"/>
<rect x="593" y="294" width="1" height="2" fill="#FFB428"/>
<rect x="593" y="326" width="1" height="2" fill="#FF80C0"/>
<rect x="593" y="423" width="1" height="2" fill="#30C090"/>
<rect x="602" y="294" width="1" height="2" fill="#FFB428"/>
<rect x="602" y="326" width="1" height="2" fill="#FF80C0"/>
<rect x="602" y="423" width="1" height="2" fill="#30C090"/>
<rect x="611" y="294" width="1" height="2" fill="#FFB428"/>
<rect x="611" y="326" width="1" height="2" fill="#FF80C0"/>
<rect x="611" y="423" width="1" height="2" fill="#30C090"/>
<rect x="621" y="294" width="1" height="2" fill="#FFB428"/>
<rect x="621" y="326" width="1" height="2" fill="#FF80C0"/>
<rect x="621" y="423" width="1" height="2" fill="#30C090"/>
<rect x="630" y="294" width="1" height="2" fill="#FFB428"/>
<rect x="630" y="326" width="1" height="2" fill="#FF80C0"/>
<rect x="630" y="423" width="1" height="2" fill="#30C090"/>
<rect x="639" y="294" width="1" height="2" fill="#FFB428"/>
<rect x="639" y="326" width="1" height="2" fill="#FF80C0"/>
<rect x="639" y="423" width="1" height="2" fill="#30C090"/>
<rect x="648" y="294" width="1" height="2" fill="#FFB428"/>
<rect x="648" y="326" width="1" height="2" fill="#FF80C0"/>
<rect x="648" y="423" width="1" height="2" fill="#30C090"/>
<rect x="657" y="294" width="1" height="2" fill="#FFB428"/>
<rect x="657" y="326" width="1" height="2" fill="#FF80C0"/>
<rect x="657" y="423" width="1" height="2" fill="#30C090"/>
<rect x="666" y="294" width="1" height="2" fill="#FFB428"/>
<rect x="666" y="326" width="1" height="2" fill="#FF80C0"/>
<rect x="666" y="423" width="1" height="2" fill="#30C090"/>
<rect x="676" y="294" width="1" height="2" fill="#FFB428"/>
<rect x="676" y="326" width="1" height="2" fill="#FF80C0"/>
<rect x="676" y="423" width="1" height="2" fill="#30C090"/>
<rect x="685" y="294" width="1" height="2" fill="#FFB428"/>
<rect x="685" y="326" width="1" height="2" fill="#FF80C0"/>
<rect x="685" y="423" width="1" height="2" fill="#30C090"/>
<rect x="694" y="294" width="1" height="2" fill="#FFB428"/>
<rect x="694" y="326" width="1" height="2" fill="#FF80C0"/>
<rect x="694" y="423" width="1" height="2" fill="#30C090"/>
<rect x="703" y="294" width="1" height="2" fill="#FFB428"/>
<rect x="703" y="326" width="1" height="2" fill="#FF80C0"/>
<rect x="703" y="423" width="1" height="2" fill="#30C090"/>
<rect x="712" y="294" width="1" height="2" fill="#FFB428"/>
<rect x="712" y="326" width="1" height="2" fill="#FF80C0"/>
<rect x="712" y="423" width="1" height="2" fill="#30C090"/>
<rect x="722" y="294" width="1" height="2" fill="#FFB428"/>
<rect x="722" y="326" width="1" height="2" fill="#FF80C0"/>
<rect x="722" y="423" width="1" height="2" fill="#30C090"/>
<rect x="731" y="294" width="1" height="2" fill="#FFB428"/>
<rect x="731" y="326" width="1" height="2" fill="#FF80C0"/>
<rect x="731" y="423" width="1" height="2" fill="#30C090"/>
<rect x="740" y="294" width="1" height="2" fill="#FFB428"/>
<rect x="740" y="326" width="1" height="2" fill="#FF80C0"/>
<rect x="740" y="423" width="1" height="2" fill="#30C090"/>
<rect x="749" y="294" width="1" height="2" fill="#FFB428"/>
<rect x="749" y="326" width="1" height="2" fill="#FF80C0"/>
<rect x="749" y="423" width="1" height="2" fill="#30C090"/>
<rect x="758" y="294" width="1" height="2" fill="#FFB428"/>
<rect x="758" y="326" width="1" height="2" fill="#FF80C0"/>
<rect x="758" y="423" width="1" height="2" fill="#30C090"/>
<rect x="768" y="294" width="1" height="2" fill="#FFB428"/>
<rect x="768" y="326" width="1" height="2" fill="#FF80C0"/>
<rect x="768" y="423" width="1" height="2" fill="#30C090"/>
<rect x="777" y="294" width="1" height="2" fill="#FFB428"/>
<rect x="777" y="326" width="1" height="2" fill="#FF80C0"/>
<rect x="777" y="423" width="1" height="2" fill="#30C090"/>
<rect x="786" y="294" width="1" height="2" fill="#FFB428"/>
<rect x="786" y="326" width="1" height="2" fill="#FF80C0"/>
<rect x="786" y="423" width="1" height="2" fill="#30C090"/>
<rect x="795" y="294" width="1" height="2" fill="#FFB428"/>
<rect x="795" y="326" width="1" height="2" fill="#FF80C0"/>
<rect x="795" y="423" width="1" height="2" fill="#30C090"/>
<rect x="804" y="294" width="1" height="2" fill="#FFB428"/>
<rect x="804" y="326" width="1" height="2" fill="#FF80C0"/>
<rect x="804" y="423" width="1" height="2" fill="#30C090"/>
<rect x="813" y="294" width="1" height="2" fill="#FFB428"/>
<rect x="813" y="326" width="1" height="2" fill="#FF80C0"/>
<rect x="813" y="423" width="1" height="2" fill="#30C090"/>
<rect x="823" y="294" width="1" height="2" fill="#FFB428"/>
<rect x="823" y="326" width="1" height="2" fill="#FF80C0"/>
<rect x="823" y="423" width="1" height="2" fill="#30C090"/>
<rect x="832" y="294" width="1" height="2" fill="#FFB428"/>
<rect x="832" y="326" width="1" height="2" fill="#FF80C0"/>
<rect x="832" y="423" width="1" height="2" fill="#30C090"/>
<rect x="841" y="294" width="1" height="2" fill="#FFB428"/>
<rect x="841" y="326" width="1" height="2" fill="#FF80C0"/>
<rect x="841" y="423" width="1" height="2" fill="#30C090"/>
<rect x="850" y="294" width="1" height="2" fill="#FFB428"/>
<rect x="850" y="326" width="1" height="2" fill="#FF80C0"/>
<rect x="850" y="423" width="1" height="2" fill="#30C090"/>
<rect x="859" y="294" width="1" height="2" fill="#FFB428"/>
<rect x="859" y="326" width="1" height="2" fill="#FF80C0"/>
<rect x="859" y="423" width="1" height="2" fill="#30C090"/>
<rect x="869" y="294" width="1" height="2" fill="#FFB428"/>
<rect x="869" y="326" width="1" height="2" fill="#FF80C0"/>
<rect x="869" y="423" width="1" height="2" fill="#30C090"/>
<rect x="878" y="294" width="1" height="2" fill="#FFB428"/>
<rect x="878" y="326" width="1" height="2" fill="#FF80C0"/>
<rect x="878" y="423" width="1" height="2" fill="#30C090"/>
<rect x="887" y="294" width="1" height="2" fill="#FFB428"/>
<rect x="887" y="326" width="1" height="2" fill="#FF80C0"/>
<rect x="887" y="423" width="1" height="2" fill="#30C090"/>
<rect x="896" y="294" width="1" height="2" fill="#FFB428"/>
<rect x="896" y="326" width="1" height="2" fill="#FF80C0"/>
<rect x="896" y="423" width="1" height="2" fill="#30C090"/>
<rect x="905" y="294" width="1" height="2" fill="#FFB428"/>
<rect x="905" y="326" width="1" height="2" fill="#FF80C0"/>
<rect x="905" y="423" width="1" height="2" fill="#30C090"/>
<rect x="915" y="294" width="1" height="2" fill="#FFB428"/>
<rect x="915" y="326" width="1" height="2" fill="#FF80C0"/>
<rect x="915" y="423" width="1" height="2" fill="#30C090"/>
<rect x="924" y="294" width="1" height="2" fill="#FFB428"/>
<rect x="924" y="326" width="1" height="2" fill="#FF80C0"/>
<rect x="924" y="423" width="1" height="2" fill="#30C090"/>
<rect x="933" y="294" width="1" height="2" fill="#FFB428"/>
<rect x="933" y="326" width="1" height="2" fill="#FF80C0"/>
<rect x="933" y="423" width="1" height="2" fill="#30C090"/>
<rect x="942" y="294" width="1" height="2" fill="#FFB428"/>
<rect x="942" y="326" width="1" height="2" fill="#FF80C0"/>
<rect x="942" y="423" width="1" height="2" fill="#30C090"/>
<rect x="951" y="294" width="1" height="2" fill="#FFB428"/>
<rect x="951" y="326" width="1" height="2" fill="#FF80C0"/>
<rect x="951" y="423" width="1" height="2" fill="#30C090"/>
<rect x="960" y="294" width="1" height="2" fill="#FFB428"/>
<rect x="960" y="326" width="1" height="2" fill="#FF80C0"/>
<rect x="960" y="423" width="1" height="2" fill="#30C090"/>
<rect x="970" y="294" width="1" height="2" fill="#FFB428"/>
<rect x="970" y="326" width="1" height="2" fill="#FF80C0"/>
<rect x="970" y="423" width="1" height="2" fill="#30C090"/>
<rect x="979" y="294" width="1" height="2" fill="#FFB428"/>
<rect x="979" y="326" width="1" height="2" fill="#FF80C0"/>
<rect x="979" y="423" width="1" height="2" fill="#30C090"/>
<rect x="988" y="294" width="1" height="2" fill="#FFB428"/>
<rect x="988" y="326" width="1" height="2" fill="#FF80C0"/>
<rect x="988" y="423" width="1" height="2" fill="#30C090"/>
<rect x="997" y="294" width="1" height="2" fill="#FFB428"/>
<rect x="997" y="326" width="1" height="2" fill="#FF80C0"/>
<rect x="997" y="423" width="1" height="2" fill="#30C090"/>
<rect x="1006" y="294" width="1" height="2" fill="#FFB428"/>
<rect x="1006" y="326" width="1" height="2" fill="#FF80C0"/>
<rect x="1006" y="423" width="1" height="2" fill="#30C090"/>
<rect x="1016" y="294" width="1" height="2" fill="#FFB428"/>
<rect x="1016" y="326" width="1" height="2" fill="#FF80C0"/>
<rect x="1016" y="423" width="1" height="2" fill="#30C090"/>
<rect x="1025" y="294" width="1" height="2" fill="#FFB428"/>
<rect x="1025" y="326" width="1" height="2" fill="#FF80C0"/>
<rect x="1025" y="423" width="1" height="2" fill="#30C090"/>
<rect x="1034" y="294" width="1" height="2" fill="#FFB428"/>
<rect x="1034" y="326" width="1" height="2" fill="#FF80C0"/>
<rect x="1034" y="423" width="1" height="2" fill="#30C090"/>
<rect x="1043" y="294" width="1" height="2" fill="#FFB428"/>
<rect x="1043" y="326" width="1" height="2" fill="#FF80C0"/>
<rect x="1043" y="423" width="1" height="2" fill="#30C090"/>
<rect x="1052" y="294" width="1" height="2" fill="#FFB428"/>
<rect x="1052" y="326" width="1" height="2" fill="#FF80C0"/>
<rect x="1052" y="423" width="1" height="2" fill="#30C090"/>
<rect x="1062" y="294" width="1" height="2" fill="#FFB428"/>
<rect x="1062" y="326" width="1" height="2" fill="#FF80C0"/>
<rect x="1062" y="423" width="1" height="2" fill="#30C090"/>
<rect x="1071" y="294" width="1" height="2" fill="#FFB428"/>
<rect x="1071" y="326" width="1" height="2" fill="#FF80C0"/>
<rect x="1071" y="423" width="1" height="2" fill="#30C090"/>
<rect x="1080" y="294" width="1" height="2" fill="#FFB428"/>
<rect x="1080" y="326" width="1" height="2" fill="#FF80C0"/>
<rect x="1080" y="423" width="1" height="2" fill="#30C090"/>
<rect x="1089" y="294" width="1" height="2" fill="#FFB428"/>
<rect x="1089" y="326" width="1" height="2" fill="#FF80C0"/>
<rect x="1089" y="423" width="1" height="2" fill="#30C090"/>
<rect x="1098" y="294" width="1" height="2" fill="#FFB428"/>
<rect x="1098" y="326" width="1" height="2" fill="#FF80C0"/>
<rect x="1098" y="423" width="1" height="2" fill="#30C090"/>
<rect x="1107" y="294" width="1" height="2" fill="#FFB428"/>
<rect x="1107" y="326" width="1" height="2" fill="#FF80C0"/>
<rect x="1107" y="423" width="1" height="2" fill="#30C090"/>
<rect x="1117" y="294" width="1" height="2" fill="#FFB428"/>
<rect x="1117" y="326" width="1" height="2" fill="#FF80C0"/>
<rect x="1117" y="423" width="1" height="2" fill="#30C090"/>
<rect x="1126" y="294" width="1" height="2" fill="#FFB428"/>
<rect x="1126" y="326" width="1" height="2" fill="#FF80C0"/>
<rect x="1126" y="423" width="1" height="2" fill="#30C090"/>
<rect x="1135" y="294" width="1" height="2" fill="#FFB428"/>
<rect x="1135" y="326" width="1" height="2" fill="#FF80C0"/>
<rect x="1135" y="423" width="1" height="2" fill="#30C090"/>
<rect x="1144" y="294" width="1" height="2" fill="#FFB428"/>
<rect x="1144" y="326" width="1" height="2" fill="#FF80C0"/>
<rect x="1144" y="423" width="1" height="2" fill="#30C090"/>
<rect x="1153" y="294" width="1" height="2" fill="#FFB428"/>
<rect x="1153" y="326" width="1" height="2" fill="#FF80C0"/>
<rect x="1153" y="423" width="1" height="2" fill="#30C090"/>
<rect x="1163" y="294" width="1" height="2" fill="#FFB428"/>
<rect x="1163" y="326" width="1" height="2" fill="#FF80C0"/>
<rect x="1163" y="423" width="1" height="2" fill="#30C090"/>
<rect x="1172" y="294" width="1" height="2" fill="#FFB428"/>
<rect x="1172" y="326" width="1" height="2" fill="#FF80C0"/>
<rect x="1172" y="423" width="1" height="2" fill="#30C090"/>
<rect x="1181" y="294" width="1" height="2" fill="#FFB428"/>
<rect x="1181" y="326" width="1" height="2" fill="#FF80C0"/>
<rect x="1181" y="423" width="1" height="2" fill="#30C090"/>
<rect x="1190" y="294" width="1" height="2" fill="#FFB428"/>
<rect x="1190" y="326" width="1" height="2" fill="#FF80C0"/>
<rect x="1190" y="423" width="1" height="2" fill="#30C090"/>
<polyline points="6.5,351.1 15.5,344.1 24.5,342.0 34.5,332.4 43.5,320.3 52.5,324.3 61.5,321.1 70.5,323.5 79.5,314.3 89.5,307.3 98.5,322.2 107.5,327.1 116.5,335.1 125.5,346.2 135.5,344.1 144.5,332.4 153.5,353.2 162.5,365.3 171.5,368.1 181.5,386.6 190.5,405.3 199.5,415.7 208.5,417.8 217.5,419.1 226.5,419.1 236.5,418.5 245.5,426.3 254.5,430.6 263.5,426.5 272.5,426.3 282.5,431.2 291.5,436.1 300.5,434.4 309.5,421.7 318.5,417.0 328.5,405.3 337.5,395.1 346.5,385.5 355.5,398.3 364.5,370.6 373.5,365.3 383.5,356.4 392.5,378.1 401.5,399.3 410.5,399.3 419.5,389.8 429.5,378.1 438.5,353.6 447.5,342.6 456.5,338.3 465.5,345.1 475.5,341.5 484.5,341.5 493.5,349.4 502.5,359.6 511.5,350.5 520.5,332.4 530.5,329.2 539.5,319.2 548.5,324.9 557.5,342.6 566.5,349.8 576.5,351.1 585.5,360.0 594.5,373.8 603.5,396.1 612.5,414.2 622.5,419.1 631.5,423.8 640.5,406.3 649.5,399.3 658.5,377.0 667.5,356.4 677.5,367.5 686.5,343.7 695.5,353.6 704.5,368.5 713.5,396.1 723.5,411.0 732.5,415.3 741.5,413.2 750.5,407.8 759.5,404.6 769.5,387.5 778.5,372.3 787.5,361.8 796.5,356.4 805.5,355.4 814.5,374.6 824.5,377.0 833.5,398.0 842.5,416.7 851.5,430.8 860.5,436.6 870.5,437.3 879.5,441.3 888.5,446.0 897.5,450.6 906.5,450.6 916.5,440.1 925.5,409.7 934.5,369.9 943.5,353.6 952.5,348.6 961.5,339.2 971.5,343.4 980.5,346.2 989.5,349.0 998.5,346.2 1007.5,357.9 1017.5,374.3 1026.5,377.1 1035.5,372.0 1044.5,361.4 1053.5,355.6 1063.5,376.6 1072.5,390.0 1081.5,385.5 1090.5,383.7 1099.5,374.3 1108.5,369.6 1118.5,381.3 1127.5,383.5 1136.5,373.0 1145.5,361.3 1154.5,340.3 1164.5,326.3 1173.5,318.1 1182.5,328.1 1191.5,322.3" fill="none" stroke="#00FF00" stroke-width="1"/>
<polyline points="6.5,370.6 15.5,361.1 24.5,354.7 34.5,347.3 43.5,337.7 52.5,333.4 61.5,329.6 70.5,327.5 79.5,322.8 89.5,317.5 98.5,319.6 107.5,320.7 116.5,325.4 125.5,332.4 135.5,337.1 144.5,335.6 153.5,339.8 162.5,349.8 171.5,355.8 181.5,366.4 190.5,380.2 199.5,393.0 208.5,401.5 217.5,407.2 226.5,411.0 236.5,413.2 245.5,417.4 254.5,422.1 263.5,423.4 272.5,424.4 282.5,426.5 291.5,429.5 300.5,431.6 309.5,428.5 318.5,424.2 328.5,417.8 337.5,410.4 346.5,401.5 355.5,400.0 364.5,390.4 373.5,381.9 383.5,373.4 392.5,372.3 401.5,381.3 410.5,387.2 419.5,387.2 429.5,384.5 438.5,374.5 447.5,364.3 456.5,355.3 465.5,351.9 475.5,348.3 484.5,346.6 493.5,347.3 502.5,351.1 511.5,351.1 520.5,345.1 530.5,339.8 539.5,333.4 548.5,330.3 557.5,335.6 566.5,339.2 576.5,342.6 585.5,348.3 594.5,357.9 603.5,372.8 612.5,386.6 622.5,396.8 631.5,406.3 640.5,406.3 649.5,403.6 658.5,394.0 667.5,382.3 677.5,377.0 686.5,366.8 695.5,362.1 704.5,364.7 713.5,374.9 723.5,387.6 732.5,397.2 741.5,402.1 750.5,403.6 759.5,405.0 769.5,398.0 778.5,388.7 787.5,379.3 796.5,372.3 805.5,368.3 814.5,369.9 824.5,372.3 833.5,384.0 842.5,395.7 851.5,407.4 860.5,416.7 870.5,423.7 879.5,430.3 888.5,435.4 897.5,440.1 906.5,443.6 916.5,442.5 925.5,431.9 934.5,412.0 943.5,391.0 952.5,377.8 961.5,364.9 971.5,359.1 980.5,354.4 989.5,352.1 998.5,350.4 1007.5,353.2 1017.5,359.1 1026.5,364.9 1035.5,368.5 1044.5,364.9 1053.5,362.6 1063.5,367.3 1072.5,375.5 1081.5,378.5 1090.5,380.6 1099.5,377.8 1108.5,375.5 1118.5,377.1 1127.5,378.8 1136.5,376.5 1145.5,369.5 1154.5,357.8 1164.5,347.3 1173.5,338.7 1182.5,334.4 1191.5,330.9" fill="none" stroke="#FFFF00" stroke-width="1"/>
<polyline points="6.5,313.7 15.5,310.5 24.5,315.0 34.5,303.1 43.5,284.6 52.5,304.3 61.5,305.8 70.5,313.7 79.5,294.6 89.5,287.8 98.5,326.6 107.5,338.8 116.5,353.6 125.5,373.4 135.5,360.0 144.5,325.4 153.5,370.6 162.5,399.3 171.5,394.0 181.5,429.1 190.5,458.8 199.5,464.8 208.5,453.1 217.5,440.4 226.5,435.5 236.5,429.5 245.5,444.0 254.5,447.2 263.5,432.3 272.5,429.5 282.5,439.7 291.5,448.2 300.5,438.7 309.5,408.5 318.5,402.5 328.5,376.0 337.5,363.2 346.5,351.5 355.5,396.6 364.5,331.3 373.5,329.2 383.5,320.3 392.5,372.8 401.5,435.5 410.5,423.8 419.5,389.8 429.5,366.4 438.5,313.9 447.5,302.2 456.5,303.3 465.5,331.3 475.5,326.6 484.5,331.3 493.5,352.6 502.5,374.5 511.5,350.5 520.5,307.5 530.5,307.5 539.5,291.6 548.5,312.2 557.5,353.6 566.5,371.7 576.5,367.5 585.5,383.4 594.5,411.0 603.5,448.2 612.5,472.2 622.5,467.3 631.5,462.0 640.5,405.7 649.5,393.0 658.5,340.9 667.5,303.3 677.5,347.3 686.5,296.9 695.5,338.8 704.5,374.9 713.5,436.5 723.5,462.0 732.5,451.4 741.5,432.3 750.5,413.2 759.5,406.2 769.5,377.0 778.5,352.4 787.5,322.0 796.5,319.2 805.5,332.5 814.5,382.8 824.5,386.3 833.5,428.4 842.5,463.5 851.5,477.5 860.5,479.9 870.5,467.0 879.5,469.4 888.5,470.5 897.5,469.4 906.5,462.1 916.5,429.6 925.5,377.0 934.5,306.8 943.5,268.2 952.5,284.9 961.5,286.6 971.5,316.3 980.5,329.9 989.5,342.3 998.5,336.4 1007.5,364.9 1017.5,404.2 1026.5,400.5 1035.5,380.1 1044.5,352.1 1053.5,341.1 1063.5,401.2 1072.5,419.4 1081.5,397.7 1090.5,391.4 1099.5,369.6 1108.5,356.3 1118.5,389.0 1127.5,392.4 1136.5,362.5 1145.5,340.3 1154.5,295.2 1164.5,280.2 1173.5,277.2 1182.5,313.4 1191.5,302.4" fill="none" stroke="#FFFFFF" stroke-width="1"/>
<polyline points="6.5,828.4 15.5,815.5 24.5,804.3 34.5,786.3 43.5,770.6 52.5,760.5 61.5,748.8 70.5,741.4 79.5,725.5 89.5,713.8 98.5,710.2 107.5,706.7 116.5,703.2 125.5,702.1 135.5,698.1 144.5,690.4 153.5,689.2 162.5,688.5 171.5,688.5 181.5,692.7 190.5,700.4 199.5,708.7 208.5,715.7 217.5,721.6 226.5,727.9 236.5,733.3 245.5,748.5 254.5,763.7 263.5,775.4 272.5,786.4 282.5,797.6 291.5,809.3 300.5,816.3 309.5,819.8 318.5,825.2 328.5,827.5 337.5,830.4 346.5,831.1 355.5,836.9 364.5,833.2 373.5,832.7 383.5,828.5 392.5,833.6 401.5,839.9 410.5,839.9 419.5,834.8 429.5,822.1 438.5,805.5 447.5,791.5 456.5,781.3 465.5,776.2 475.5,767.2 484.5,759.6 493.5,755.8 502.5,748.1 511.5,736.6 520.5,725.1 530.5,716.2 539.5,706.0 548.5,702.7 557.5,702.7 566.5,702.7 576.5,702.9 585.5,704.0 594.5,712.5 603.5,718.9 612.5,727.8 622.5,734.8 631.5,742.3 640.5,744.4 649.5,746.9 658.5,746.9 667.5,744.8 677.5,748.0 686.5,745.5 695.5,750.8 704.5,758.2 713.5,771.6 723.5,784.8 732.5,792.8 741.5,796.0 750.5,796.9 759.5,797.4 769.5,793.4 778.5,791.5 787.5,787.3 796.5,786.9 805.5,787.3 814.5,788.7 824.5,788.7 833.5,792.7 842.5,803.2 851.5,813.3 860.5,824.3 870.5,830.1 879.5,839.5 888.5,847.7 897.5,854.7 906.5,860.6 916.5,861.7 925.5,859.9 934.5,854.7 943.5,844.2 952.5,829.5 961.5,822.5 971.5,816.6 980.5,811.9 989.5,807.3 998.5,799.1 1007.5,789.7 1017.5,785.0 1026.5,775.7 1035.5,768.7 1044.5,759.3 1053.5,749.2 1063.5,747.6 1072.5,746.9 1081.5,742.2 1090.5,741.3 1099.5,741.1 1108.5,741.1 1118.5,749.5 1127.5,753.8 1136.5,754.7 1145.5,754.7 1154.5,742.0 1164.5,731.2 1173.5,720.9 1182.5,719.4 1191.5,708.6" fill="none" stroke="#00FFFF" stroke-width="2"/>
<polyline points="6.5,783.2 15.5,745.3 24.5,726.6 34.5,693.9 43.5,662.3 52.5,662.3 61.5,652.9 70.5,652.9 79.5,634.2 89.5,621.8 98.5,641.2 107.5,646.6 116.5,655.3 125.5,665.8 135.5,662.3 144.5,645.5 153.5,658.8 162.5,668.1 171.5,668.6 181.5,691.5 190.5,721.9 199.5,740.3 208.5,752.0 217.5,762.5 226.5,773.0 236.5,781.2 245.5,825.7 254.5,851.4 263.5,863.1 272.5,874.8 282.5,886.5 291.5,897.0 300.5,897.0 309.5,881.8 318.5,880.6 328.5,868.9 337.5,866.6 346.5,861.5 355.5,872.9 364.5,846.3 373.5,835.0 383.5,822.1 392.5,834.8 401.5,864.4 410.5,859.1 419.5,828.5 429.5,795.0 438.5,740.4 447.5,707.3 456.5,694.5 465.5,706.0 475.5,695.8 484.5,693.3 493.5,700.9 502.5,692.7 511.5,675.4 520.5,647.3 530.5,642.2 539.5,629.0 548.5,637.1 557.5,661.4 566.5,677.9 576.5,680.6 585.5,698.7 594.5,723.1 603.5,743.3 612.5,772.0 622.5,780.5 631.5,789.4 640.5,781.6 649.5,781.6 658.5,771.0 667.5,753.5 677.5,764.6 686.5,748.6 695.5,767.8 704.5,795.4 713.5,834.7 723.5,859.8 732.5,858.1 741.5,850.7 750.5,833.7 759.5,827.8 769.5,801.4 778.5,786.4 787.5,778.7 796.5,776.3 805.5,779.9 814.5,789.9 824.5,788.7 833.5,797.4 842.5,838.3 851.5,866.4 860.5,886.3 870.5,888.6 879.5,899.2 888.5,909.7 897.5,916.7 906.5,916.7 916.5,906.2 925.5,879.3 934.5,840.7 943.5,810.3 952.5,787.4 961.5,765.1 971.5,765.1 980.5,761.6 989.5,761.6 998.5,745.3 1007.5,727.0 1017.5,727.0 1026.5,716.0 1035.5,709.0 1044.5,694.3 1053.5,682.1 1063.5,697.3 1072.5,712.0 1081.5,708.3 1090.5,715.3 1099.5,722.3 1108.5,728.4 1118.5,762.8 1127.5,771.9 1136.5,771.9 1145.5,769.1 1154.5,722.2 1164.5,684.2 1173.5,661.1 1182.5,673.0 1191.5,654.9" fill="none" stroke="#FF0000" stroke-width="2"/>
<rect x="6" y="718" width="1" height="45" fill="#FF3232"/>
<rect x="15" y="696" width="1" height="67" fill="#FF3232"/>
<rect x="24" y="686" width="1" height="77" fill="#FF3232"/>
<rect x="34" y="670" width="1" height="93" fill="#FF3232"/>
<rect x="43" y="662" width="1" height="101" fill="#FF3232"/>
<rect x="52" y="666" width="1" height="97" fill="#FF3232"/>
<rect x="61" y="668" width="1" height="95" fill="#FF3232"/>
<rect x="70" y="677" width="1" height="86" fill="#FF3232"/>
<rect x="79" y="671" width="1" height="92" fill="#FF3232"/>
<rect x="89" y="670" width="1" height="93" fill="#FF3232"/>
<rect x="98" y="692" width="1" height="71" fill="#FF3232"/>
<rect x="107" y="703" width="1" height="60" fill="#FF3232"/>
<rect x="116" y="714" width="1" height="49" fill="#FF3232"/>
<rect x="125" y="727" width="1" height="36" fill="#FF3232"/>
<rect x="135" y="727" width="1" height="36" fill="#FF3232"/>
<rect x="144" y="718" width="1" height="45" fill="#FF3232"/>
<rect x="153" y="732" width="1" height="31" fill="#FF3232"/>
<rect x="162" y="742" width="1" height="21" fill="#FF3232"/>
<rect x="171" y="745" width="1" height="18" fill="#FF3232"/>
<rect x="190" y="762" width="1" height="22" fill="#54FFFF"/>
<rect x="199" y="762" width="1" height="32" fill="#54FFFF"/>
<rect x="208" y="762" width="1" height="37" fill="#54FFFF"/>
<rect x="217" y="762" width="1" height="43" fill="#54FFFF"/>
<rect x="226" y="762" width="1" height="46" fill="#54FFFF"/>
<rect x="236" y="762" width="1" height="49" fill="#54FFFF"/>
<rect x="245" y="762" width="1" height="75" fill="#54FFFF"/>
<rect x="254" y="762" width="1" height="86" fill="#54FFFF"/>
<rect x="263" y="762" width="1" height="89" fill="#54FFFF"/>
<rect x="272" y="762" width="1" height="89" fill="#54FFFF"/>
<rect x="282" y="762" width="1" height="90" fill="#54FFFF"/>
<rect x="291" y="762" width="1" height="89" fill="#54FFFF"/>
<rect x="300" y="762" width="1" height="81" fill="#54FFFF"/>
<rect x="309" y="762" width="1" height="63" fill="#54FFFF"/>
<rect x="318" y="762" width="1" height="56" fill="#54FFFF"/>
<rect x="328" y="762" width="1" height="42" fill="#54FFFF"/>
<rect x="337" y="762" width="1" height="36" fill="#54FFFF"/>
<rect x="346" y="762" width="1" height="29" fill="#54FFFF"/>
<rect x="355" y="762" width="1" height="36" fill="#54FFFF"/>
<rect x="364" y="762" width="1" height="13" fill="#54FFFF"/>
<rect x="373" y="762" width="1" height="4" fill="#54FFFF"/>
<rect x="383" y="756" width="1" height="7" fill="#FF3232"/>
<rect x="392" y="762" width="1" height="2" fill="#54FFFF"/>
<rect x="401" y="762" width="1" height="24" fill="#54FFFF"/>
<rect x="410" y="762" width="1" height="18" fill="#54FFFF"/>
<rect x="419" y="762" width="1" height="1" fill="#FF3232"/>
<rect x="429" y="737" width="1" height="26" fill="#FF3232"/>
<rect x="438" y="698" width="1" height="65" fill="#FF3232"/>
<rect x="447" y="680" width="1" height="83" fill="#FF3232"/>
<rect x="456" y="677" width="1" height="86" fill="#FF3232"/>
<rect x="465" y="692" width="1" height="71" fill="#FF3232"/>
<rect x="475" y="691" width="1" height="72" fill="#FF3232"/>
<rect x="484" y="696" width="1" height="67" fill="#FF3232"/>
<rect x="493" y="709" width="1" height="54" fill="#FF3232"/>
<rect x="502" y="707" width="1" height="56" fill="#FF3232"/>
<rect x="511" y="698" width="1" height="65" fill="#FF3232"/>
<rect x="520" y="686" width="1" height="77" fill="#FF3232"/>
<rect x="530" y="689" width="1" height="74" fill="#FF3232"/>
<rect x="539" y="686" width="1" height="77" fill="#FF3232"/>
<rect x="548" y="700" width="1" height="63" fill="#FF3232"/>
<rect x="557" y="722" width="1" height="41" fill="#FF3232"/>
<rect x="566" y="738" width="1" height="25" fill="#FF3232"/>
<rect x="576" y="742" width="1" height="21" fill="#FF3232"/>
<rect x="585" y="756" width="1" height="7" fill="#FF3232"/>
<rect x="594" y="762" width="1" height="13" fill="#54FFFF"/>
<rect x="603" y="762" width="1" height="27" fill="#54FFFF"/>
<rect x="612" y="762" width="1" height="44" fill="#54FFFF"/>
<rect x="622" y="762" width="1" height="46" fill="#54FFFF"/>
<rect x="631" y="762" width="1" height="49" fill="#54FFFF"/>
<rect x="640" y="762" width="1" height="39" fill="#54FFFF"/>
<rect x="649" y="762" width="1" height="35" fill="#54FFFF"/>
<rect x="658" y="762" width="1" height="24" fill="#54FFFF"/>
<rect x="667" y="762" width="1" height="9" fill="#54FFFF"/>
<rect x="677" y="762" width="1" height="18" fill="#54FFFF"/>
<rect x="686" y="762" width="1" height="3" fill="#54FFFF"/>
<rect x="695" y="762" width="1" height="17" fill="#54FFFF"/>
<rect x="704" y="762" width="1" height="32" fill="#54FFFF"/>
<rect x="713" y="762" width="1" height="61" fill="#54FFFF"/>
<rect x="723" y="762" width="1" height="74" fill="#54FFFF"/>
<rect x="732" y="762" width="1" height="66" fill="#54FFFF"/>
<rect x="741" y="762" width="1" height="55" fill="#54FFFF"/>
<rect x="750" y="762" width="1" height="37" fill="#54FFFF"/>
<rect x="759" y="762" width="1" height="30" fill="#54FFFF"/>
<rect x="769" y="762" width="1" height="7" fill="#54FFFF"/>
<rect x="778" y="761" width="1" height="2" fill="#FF3232"/>
<rect x="787" y="753" width="1" height="10" fill="#FF3232"/>
<rect x="796" y="752" width="1" height="11" fill="#FF3232"/>
<rect x="805" y="757" width="1" height="6" fill="#FF3232"/>
<rect x="814" y="762" width="1" height="1" fill="#54FFFF"/>
<rect x="824" y="762" width="1" height="1" fill="#FF3232"/>
<rect x="833" y="762" width="1" height="6" fill="#54FFFF"/>
<rect x="842" y="762" width="1" height="35" fill="#54FFFF"/>
<rect x="851" y="762" width="1" height="53" fill="#54FFFF"/>
<rect x="860" y="762" width="1" height="62" fill="#54FFFF"/>
<rect x="870" y="762" width="1" height="59" fill="#54FFFF"/>
<rect x="879" y="762" width="1" height="62" fill="#54FFFF"/>
<rect x="888" y="762" width="1" height="63" fill="#54FFFF"/>
<rect x="897" y="762" width="1" height="62" fill="#54FFFF"/>
<rect x="906" y="762" width="1" height="57" fill="#54FFFF"/>
<rect x="916" y="762" width="1" height="42" fill="#54FFFF"/>
<rect x="925" y="762" width="1" height="21" fill="#54FFFF"/>
<rect x="934" y="760" width="1" height="3" fill="#FF3232"/>
<rect x="943" y="733" width="1" height="30" fill="#FF3232"/>
<rect x="952" y="720" width="1" height="43" fill="#FF3232"/>
<rect x="961" y="705" width="1" height="58" fill="#FF3232"/>
<rect x="971" y="711" width="1" height="52" fill="#FF3232"/>
<rect x="980" y="714" width="1" height="49" fill="#FF3232"/>
<rect x="989" y="718" width="1" height="45" fill="#FF3232"/>
<rect x="998" y="713" width="1" height="50" fill="#FF3232"/>
<rect x="1007" y="701" width="1" height="62" fill="#FF3232"/>
<rect x="1017" y="707" width="1" height="56" fill="#FF3232"/>
<rect x="1026" y="704" width="1" height="59" fill="#FF3232"/>
<rect x="1035" y="703" width="1" height="60" fill="#FF3232"/>
<rect x="1044" y="698" width="1" height="65" fill="#FF3232"/>
<rect x="1053" y="695" width="1" height="68" fill="#FF3232"/>
<rect x="1063" y="713" width="1" height="50" fill="#FF3232"/>
<rect x="1072" y="728" width="1" height="35" fill="#FF3232"/>
<rect x="1081" y="728" width="1" height="35" fill="#FF3232"/>
<rect x="1090" y="737" width="1" height="26" fill="#FF3232"/>
<rect x="1099" y="745" width="1" height="18" fill="#FF3232"/>
<rect x="1108" y="750" width="1" height="13" fill="#FF3232"/>
<rect x="1118" y="762" width="1" height="14" fill="#54FFFF"/>
<rect x="1127" y="762" width="1" height="19" fill="#54FFFF"/>
<rect x="1136" y="762" width="1" height="18" fill="#54FFFF"/>
<rect x="1145" y="762" width="1" height="14" fill="#54FFFF"/>
<rect x="1154" y="742" width="1" height="21" fill="#FF3232"/>
<rect x="1164" y="716" width="1" height="47" fill="#FF3232"/>
<rect x="1173" y="702" width="1" height="61" fill="#FF3232"/>
<rect x="1182" y="717" width="1" height="46" fill="#FF3232"/>
<rect x="1191" y="709" width="1" height="54" fill="#FF3232"/>
<text x="383" y="833.5" fill="#FFFF00">突破</text>
<text x="419" y="840" fill="#FFFF00">突破</text>
<text x="778" y="796" fill="#FFFF00">突破</text>
<text x="824" y="794" fill="#FFFF00">突破</text>
<text x="935" y="858.5" fill="#FFFF00">突破</text>
<text x="1154" y="749" fill="#FFFF00">突破</text>
<rect x="0" y="0" width="1276" height="1" fill="#C00000"/>
<rect x="1" y="0" width="1" height="941" fill="#C00000"/>
<rect x="1275" y="0" width="1" height="941" fill="#C00000"/>
<rect x="1224" y="0" width="1" height="940" fill="#C00000"/>
<rect x="1" y="248" width="1275" height="1" fill="#C00000"/>
<rect x="1" y="601" width="1275" height="1" fill="#C00000"/>
<rect x="1" y="923" width="1275" height="1" fill="#C00000"/>
<rect x="1" y="939" width="1275" height="1" fill="#C00000"/>
<rect x="1224" y="601" width="52" height="2" fill="#C00000"/>
<rect x="1224" y="601" width="2" height="323" fill="#C00000"/>
<rect x="1274" y="601" width="2" height="323" fill="#C00000"/>
<rect x="1224" y="922" width="52" height="2" fill="#C00000"/>
<rect x="0" y="1" width="1" height="16" fill="#243434"/>
<rect x="1225" y="49" width="5" height="1" fill="#C00000"/>
<rect x="1225" y="85" width="5" height="1" fill="#C00000"/>
<rect x="1225" y="120" width="5" height="1" fill="#C00000"/>
<rect x="1225" y="156" width="5" height="1" fill="#C00000"/>
<rect x="1225" y="192" width="5" height="1" fill="#C00000"/>
<rect x="1225" y="227" width="5" height="1" fill="#C00000"/>
<rect x="1225" y="67" width="2" height="1" fill="#C00000"/>
<rect x="1225" y="102" width="2" height="1" fill="#C00000"/>
<rect x="1225" y="138" width="2" height="1" fill="#C00000"/>
<rect x="1225" y="174" width="2" height="1" fill="#C00000"/>
<rect x="1225" y="209" width="2" height="1" fill="#C00000"/>
<rect x="1225" y="263" width="5" height="1" fill="#C00000"/>
<rect x="1225" y="295" width="5" height="1" fill="#C00000"/>
<rect x="1225" y="327" width="5" height="1" fill="#C00000"/>
<rect x="1225" y="359" width="5" height="1" fill="#C00000"/>
<rect x="1225" y="391" width="5" height="1" fill="#C00000"/>
<rect x="1225" y="424" width="5" height="1" fill="#C00000"/>
<rect x="1225" y="456" width="5" height="1" fill="#C00000"/>
<rect x="1225" y="488" width="5" height="1" fill="#C00000"/>
<rect x="1225" y="520" width="5" height="1" fill="#C00000"/>
<rect x="1225" y="552" width="5" height="1" fill="#C00000"/>
<rect x="1225" y="279" width="2" height="1" fill="#C00000"/>
<rect x="1225" y="311" width="2" height="1" fill="#C00000"/>
<rect x="1225" y="343" width="2" height="1" fill="#C00000"/>
<rect x="1225" y="375" width="2" height="1" fill="#C00000"/>
<rect x="1225" y="407" width="2" height="1" fill="#C00000"/>
<rect x="1225" y="440" width="2" height="1" fill="#C00000"/>
<rect x="1225" y="472" width="2" height="1" fill="#C00000"/>
<rect x="1225" y="504" width="2" height="1" fill="#C00000"/>
<rect x="1225" y="536" width="2" height="1" fill="#C00000"/>
<rect x="1225" y="628" width="5" height="1" fill="#C00000"/>
<rect x="1225" y="662" width="5" height="1" fill="#C00000"/>
<rect x="1225" y="695" width="5" height="1" fill="#C00000"/>
<rect x="1225" y="729" width="5" height="1" fill="#C00000"/>
<rect x="1225" y="762" width="5" height="1" fill="#C00000"/>
<rect x="1225" y="795" width="5" height="1" fill="#C00000"/>
<rect x="1225" y="829" width="5" height="1" fill="#C00000"/>
<rect x="1225" y="862" width="5" height="1" fill="#C00000"/>
<rect x="1225" y="645" width="2" height="1" fill="#C00000"/>
<rect x="1225" y="678" width="2" height="1" fill="#C00000"/>
<rect x="1225" y="712" width="2" height="1" fill="#C00000"/>
<rect x="1225" y="745" width="2" height="1" fill="#C00000"/>
<rect x="1225" y="778" width="2" height="1" fill="#C00000"/>
<rect x="1225" y="812" width="2" height="1" fill="#C00000"/>
<rect x="1225" y="845" width="2" height="1" fill="#C00000"/>
<text x="1246.14" y="54" fill="#FF3232">2.40</text>
<text x="1246.14" y="90" fill="#FF3232">2.25</text>
<text x="1246.14" y="125" fill="#FF3232">2.10</text>
<text x="1246.14" y="161" fill="#FF3232">1.95</text>
<text x="1246.14" y="197" fill="#FF3232">1.80</text>
<text x="1246.14" y="232" fill="#FF3232">1.65</text>
<text x="1239.47" y="268" fill="#FF3232">120.0</text>
<text x="1239.47" y="300" fill="#FF3232">100.0</text>
<text x="1239.47" y="332" fill="#FF3232">80.00</text>
<text x="1239.47" y="364" fill="#FF3232">60.00</text>
<text x="1239.47" y="396" fill="#FF3232">40.00</text>
<text x="1239.47" y="429" fill="#FF3232">20.00</text>
<text x="1246.14" y="461" fill="#FF3232">0.00</text>
<text x="1235.47" y="493" fill="#FF3232">-20.00</text>
<text x="1235.47" y="525" fill="#FF3232">-40.00</text>
<text x="1235.47" y="557" fill="#FF3232">-60.00</text>
<text x="1246.14" y="633" fill="#FF3232">0.40</text>
<text x="1246.14" y="667" fill="#FF3232">0.30</text>
<text x="1246.14" y="700" fill="#FF3232">0.20</text>
<text x="1246.14" y="734" fill="#FF3232">0.10</text>
<text x="1246.14" y="767" fill="#FF3232">0.00</text>
<text x="1242.15" y="800" fill="#FF3232">-0.10</text>
<text x="1242.15" y="834" fill="#FF3232">-0.20</text>
<text x="1242.15" y="867" fill="#FF3232">-0.30</text>
<text x="7" y="936" fill="#FF3232">2019</text>
<text x="33.5" y="936" fill="#FF3232">年</text>
<rect x="80" y="923" width="1" height="17" fill="#C00000"/>
<rect x="158" y="923" width="1" height="17" fill="#C00000"/>
<rect x="81" y="924" width="77" height="15" fill="#000080"/>
<text x="82" y="936" fill="#C8C8C8">2019/09/16/</text>
<text x="144" y="936" fill="#C8C8C8">一</text>
<rect x="180" y="923" width="1" height="17" fill="#C00000"/>
<text x="181.5" y="936" fill="#FF3232">10</text>
<rect x="345" y="923" width="1" height="17" fill="#C00000"/>
<text x="346.5" y="936" fill="#FF3232">11</text>
<rect x="538" y="923" width="1" height="17" fill="#C00000"/>
<text x="539.5" y="936" fill="#FF3232">12</text>
<rect x="740" y="923" width="1" height="17" fill="#C00000"/>
<text x="741.5" y="936" fill="#FF3232">1</text>
<rect x="887" y="923" width="1" height="17" fill="#C00000"/>
<text x="888.5" y="936" fill="#FF3232">2</text>
<rect x="1071" y="923" width="1" height="17" fill="#C00000"/>
<text x="1072.5" y="936" fill="#FF3232">3</text>
<rect x="221" y="924" width="1" height="2" fill="#C00000"/>
<rect x="263" y="924" width="1" height="2" fill="#C00000"/>
<rect x="304" y="924" width="1" height="2" fill="#C00000"/>
<rect x="393" y="924" width="1" height="2" fill="#C00000"/>
<rect x="443" y="924" width="1" height="2" fill="#C00000"/>
<rect x="491" y="924" width="1" height="2" fill="#C00000"/>
<rect x="589" y="924" width="1" height="2" fill="#C00000"/>
<rect x="639" y="924" width="1" height="2" fill="#C00000"/>
<rect x="690" y="924" width="1" height="2" fill="#C00000"/>
<rect x="777" y="924" width="1" height="2" fill="#C00000"/>
<rect x="814" y="924" width="1" height="2" fill="#C00000"/>
<rect x="850" y="924" width="1" height="2" fill="#C00000"/>
<rect x="933" y="924" width="1" height="2" fill="#C00000"/>
<rect x="979" y="924" width="1" height="2" fill="#C00000"/>
<rect x="1025" y="924" width="1" height="2" fill="#C00000"/>
<rect x="2" y="940" width="1" height="1" fill="#C00000"/>
<rect x="32" y="940" width="1" height="1" fill="#C00000"/>
<rect x="62" y="940" width="1" height="1" fill="#C00000"/>
<rect x="93" y="940" width="1" height="1" fill="#C00000"/>
<rect x="123" y="940" width="1" height="1" fill="#C00000"/>
<rect x="181" y="940" width="1" height="1" fill="#C00000"/>
<rect x="247" y="940" width="1" height="1" fill="#C00000"/>
<rect x="305" y="940" width="1" height="1" fill="#C00000"/>
<rect x="362" y="940" width="1" height="1" fill="#C00000"/>
<rect x="418" y="940" width="1" height="1" fill="#C00000"/>
<rect x="481" y="940" width="1" height="1" fill="#C00000"/>
<rect x="540" y="940" width="1" height="1" fill="#C00000"/>
<rect x="600" y="940" width="1" height="1" fill="#C00000"/>
<rect x="660" y="940" width="1" height="1" fill="#C00000"/>
<rect x="720" y="940" width="1" height="1" fill="#C00000"/>
<rect x="780" y="940" width="1" height="1" fill="#C00000"/>
<rect x="840" y="940" width="1" height="1" fill="#C00000"/>
<rect x="900" y="940" width="1" height="1" fill="#C00000"/>
<rect x="960" y="940" width="1" height="1" fill="#C00000"/>
<rect x="1020" y="940" width="1" height="1" fill="#C00000"/>
<rect x="1080" y="940" width="1" height="1" fill="#C00000"/>
<rect x="1140" y="940" width="1" height="1" fill="#C00000"/>
<rect x="1200" y="940" width="1" height="1" fill="#C00000"/>
<rect x="1224" y="940" width="1" height="1" fill="#C00000"/>
<rect x="1249" y="940" width="1" height="1" fill="#C00000"/>
<text x="1236.5" y="936" fill="#C8C8C8">日线</text>
<text x="5" y="15" fill="#C8C8C8">*ST</text>
<text x="25" y="14.5" fill="#C8C8C8">盈方</text>
<text x="50.5" y="14.5" fill="#C8C8C8">(</text>
<text x="54" y="14.5" fill="#C8C8C8">日线</text>
<text x="78" y="14.5" fill="#C8C8C8">)</text>
<g shape-rendering="auto"><circle cx="93" cy="10" r="6" fill="#808080"/><path d="M90 9 L93 12 L96 9" fill="none" stroke="#101010" stroke-width="1.2"/></g>
<g shape-rendering="auto"><circle cx="10" cy="257" r="6" fill="#808080"/><path d="M7 256 L10 259 L13 256" fill="none" stroke="#101010" stroke-width="1.2"/></g>
<text x="20" y="261.5" fill="#C8C8C8">无敌买卖</text>
<text x="73.5" y="261.5" fill="#C8C8C8" style="font-size:11.6px">MACD: 47.75</text>
<text x="164.5" y="261.5" fill="#0000FF">警戒雷达</text>
<text x="212.5" y="261.5" fill="#0000FF" style="font-size:11.6px">: 0.00</text>
<text x="268" y="261.5" fill="#00FF00" style="font-size:11.7px">K: 83.98</text>
<text x="318" y="261.5" fill="#FFFF00" style="font-size:11.7px">D: 77.96</text>
<text x="368.5" y="261.5" fill="#E8E8E8" style="font-size:11.7px">J: 96.04</text>
<text x="416" y="261.5" fill="#20C080">底</text>
<text x="428" y="261.5" fill="#20C080" style="font-size:11.6px">: 20.00</text>
<text x="470" y="261.5" fill="#FF6496">入顶</text>
<text x="494" y="261.5" fill="#FF6496" style="font-size:11.8px">: 80.00</text>
<text x="536.5" y="261.5" fill="#F0A020">大顶</text>
<text x="560.5" y="261.5" fill="#F0A020" style="font-size:11.8px">: 100.00</text>
<g shape-rendering="auto"><circle cx="10" cy="610" r="6" fill="#808080"/><path d="M7 609 L10 612 L13 609" fill="none" stroke="#101010" stroke-width="1.2"/></g>
<text x="20" y="614.5" fill="#C8C8C8">突破主力信号</text>
<text x="97" y="614.5" fill="#00FFFF">阻力线</text>
<text x="133" y="614.5" fill="#00FFFF" style="font-size:11.8px">: 0.16</text>
<text x="168.5" y="614.5" fill="#FF0000">操作线</text>
<text x="204.5" y="614.5" fill="#FF0000" style="font-size:11.8px">: 0.32</text>
<text x="249" y="614.5" fill="#C8C8C8">红绿棒</text>
<text x="285" y="614.5" fill="#C8C8C8" style="font-size:11.8px">: 0.16</text>
<g shape-rendering="geometricPrecision" fill="none" stroke="#808080"><path d="M1196.5 5.3 L1201.7 10.5 L1196.5 15.7 L1191.3 10.5 Z" stroke-width="1"/><rect x="1209.6" y="5.6" width="10.8" height="9.8" rx="2" stroke-width="1.4"/><rect x="1215.8" y="7" width="3.2" height="7" fill="#808080" stroke="none"/></g>
<rect x="1190" y="19" width="2" height="2" fill="#FF00FF"/>
<text x="168" y="31.5" fill="#C8C8C8" style="font-size:11.2px">2.52</text>
<path d="M154.5 23.5 L154.5 21.5 L157 21.5 M154.5 21.5 Q160 25 165 25.5" fill="none" stroke="#C8C8C8" stroke-width="1" shape-rendering="auto"/>
<text x="911.5" y="238" fill="#C8C8C8" style="font-size:11.2px">1.63</text>
<path d="M894 232.5 H909 M894 232.5 l4 -3 M894 232.5 l4 3" fill="none" stroke="#C8C8C8" stroke-width="1" shape-rendering="auto"/>
<rect x="331" y="234" width="13" height="13" fill="#104C9C"/>
<text x="331.5" y="245" fill="#fff">财</text>
<rect x="798" y="234" width="13" height="13" fill="#800000"/>
<text x="798.5" y="245" fill="#fff">增</text>
<rect x="836" y="234" width="13" height="13" fill="#C05A10"/>
<text x="836.5" y="245" fill="#fff">预</text>
<rect x="936" y="234" width="13" height="13" fill="#904810"/>
<text x="936.5" y="245" fill="#fff">榜</text>
<rect x="1056" y="234" width="13" height="13" fill="#087808"/>
<text x="1056.5" y="245" fill="#fff">跌</text>
<g opacity="0.23" fill="#fff" style="font-size:23.4px">
<g transform="translate(-1.5,178) rotate(-44)"><text x="0" y="0" style="font-size:23.4px">www.cfchi.com</text></g>
<g transform="translate(244,178) rotate(-44)"><text x="0" y="0" style="font-size:23.4px">www.cfchi.com</text></g>
<g transform="translate(489.5,178) rotate(-44)"><text x="0" y="0" style="font-size:23.4px">www.cfchi.com</text></g>
<g transform="translate(735,178) rotate(-44)"><text x="0" y="0" style="font-size:23.4px">www.cfchi.com</text></g>
<g transform="translate(980.5,178) rotate(-44)"><text x="0" y="0" style="font-size:23.4px">www.cfchi.com</text></g>
<g transform="translate(1226,178) rotate(-44)"><text x="0" y="0" style="font-size:23.4px">www.cfchi.com</text></g>
<g transform="translate(-1.5,358) rotate(-44)"><text x="0" y="0" style="font-size:23.4px">www.cfchi.com</text></g>
<g transform="translate(244,358) rotate(-44)"><text x="0" y="0" style="font-size:23.4px">www.cfchi.com</text></g>
<g transform="translate(489.5,358) rotate(-44)"><text x="0" y="0" style="font-size:23.4px">www.cfchi.com</text></g>
<g transform="translate(735,358) rotate(-44)"><text x="0" y="0" style="font-size:23.4px">www.cfchi.com</text></g>
<g transform="translate(980.5,358) rotate(-44)"><text x="0" y="0" style="font-size:23.4px">www.cfchi.com</text></g>
<g transform="translate(1226,358) rotate(-44)"><text x="0" y="0" style="font-size:23.4px">www.cfchi.com</text></g>
<g transform="translate(-1.5,538) rotate(-44)"><text x="0" y="0" style="font-size:23.4px">www.cfchi.com</text></g>
<g transform="translate(244,538) rotate(-44)"><text x="0" y="0" style="font-size:23.4px">www.cfchi.com</text></g>
<g transform="translate(489.5,538) rotate(-44)"><text x="0" y="0" style="font-size:23.4px">www.cfchi.com</text></g>
<g transform="translate(735,538) rotate(-44)"><text x="0" y="0" style="font-size:23.4px">www.cfchi.com</text></g>
<g transform="translate(980.5,538) rotate(-44)"><text x="0" y="0" style="font-size:23.4px">www.cfchi.com</text></g>
<g transform="translate(1226,538) rotate(-44)"><text x="0" y="0" style="font-size:23.4px">www.cfchi.com</text></g>
<g transform="translate(-1.5,718) rotate(-44)"><text x="0" y="0" style="font-size:23.4px">www.cfchi.com</text></g>
<g transform="translate(244,718) rotate(-44)"><text x="0" y="0" style="font-size:23.4px">www.cfchi.com</text></g>
<g transform="translate(489.5,718) rotate(-44)"><text x="0" y="0" style="font-size:23.4px">www.cfchi.com</text></g>
<g transform="translate(735,718) rotate(-44)"><text x="0" y="0" style="font-size:23.4px">www.cfchi.com</text></g>
<g transform="translate(980.5,718) rotate(-44)"><text x="0" y="0" style="font-size:23.4px">www.cfchi.com</text></g>
<g transform="translate(1226,718) rotate(-44)"><text x="0" y="0" style="font-size:23.4px">www.cfchi.com</text></g>
<g transform="translate(-1.5,898) rotate(-44)"><text x="0" y="0" style="font-size:23.4px">www.cfchi.com</text></g>
<g transform="translate(244,898) rotate(-44)"><text x="0" y="0" style="font-size:23.4px">www.cfchi.com</text></g>
<g transform="translate(489.5,898) rotate(-44)"><text x="0" y="0" style="font-size:23.4px">www.cfchi.com</text></g>
<g transform="translate(735,898) rotate(-44)"><text x="0" y="0" style="font-size:23.4px">www.cfchi.com</text></g>
<g transform="translate(980.5,898) rotate(-44)"><text x="0" y="0" style="font-size:23.4px">www.cfchi.com</text></g>
<g transform="translate(1226,898) rotate(-44)"><text x="0" y="0" style="font-size:23.4px">www.cfchi.com</text></g>
</g></svg></body></html>
